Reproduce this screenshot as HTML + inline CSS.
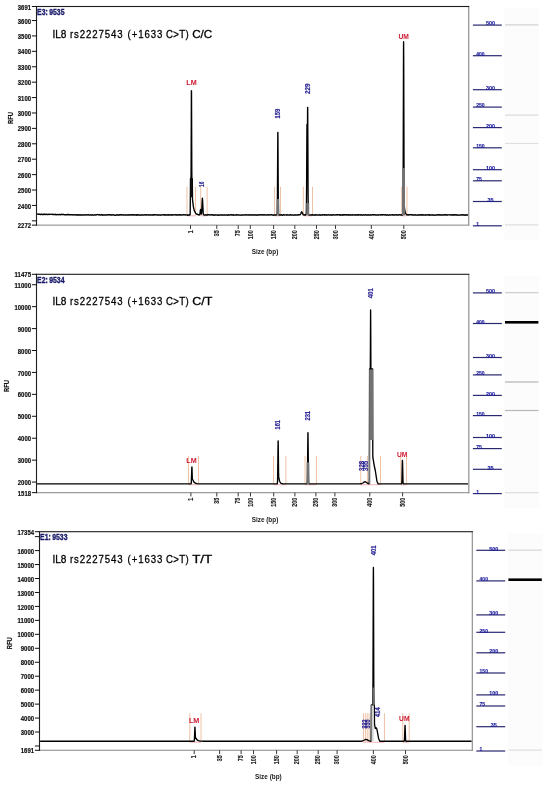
<!DOCTYPE html><html><head><meta charset="utf-8"><title>IL8 rs2227543 electropherograms</title>
<style>html,body{margin:0;padding:0;background:#fff;}svg{display:block;}</style></head><body>
<svg width="550" height="787" viewBox="0 0 550 787" font-family='"Liberation Sans", "DejaVu Sans", sans-serif'>
<rect x="0" y="0" width="550" height="787" fill="#ffffff"/>
<rect x="504.4" y="8" width="34.6" height="232.65" fill="#fcfcfc"/>
<rect x="505" y="24.4" width="33.4" height="1" fill="#c8c8c8"/>
<rect x="505" y="114.6" width="33.4" height="1" fill="#d4d4d4"/>
<rect x="505" y="142.9" width="33.4" height="1" fill="#dcdcdc"/>
<rect x="505" y="224.4" width="33.4" height="1" fill="#d8d8d8"/>
<rect x="472.9" y="24.5" width="28.9" height="1.2" fill="#2a2870"/>
<text x="490.4" y="25.4" font-size="5.0" font-weight="bold" fill="#2020a0" stroke="#2020a0" stroke-width="0.12" text-anchor="middle" textLength="9" lengthAdjust="spacingAndGlyphs">500</text>
<rect x="472.9" y="55.1" width="28.9" height="1.2" fill="#2a2870"/>
<text x="476.2" y="56" font-size="5.0" font-weight="bold" fill="#2020a0" stroke="#2020a0" stroke-width="0.12">400</text>
<rect x="472.9" y="89.1" width="28.9" height="1.2" fill="#2a2870"/>
<text x="490.4" y="90" font-size="5.0" font-weight="bold" fill="#2020a0" stroke="#2020a0" stroke-width="0.12" text-anchor="middle" textLength="9" lengthAdjust="spacingAndGlyphs">300</text>
<rect x="472.9" y="106.5" width="28.9" height="1.2" fill="#2a2870"/>
<text x="476.2" y="107.4" font-size="5.0" font-weight="bold" fill="#2020a0" stroke="#2020a0" stroke-width="0.12">250</text>
<rect x="472.9" y="127" width="28.9" height="1.2" fill="#2a2870"/>
<text x="490.4" y="127.9" font-size="5.0" font-weight="bold" fill="#2020a0" stroke="#2020a0" stroke-width="0.12" text-anchor="middle" textLength="9" lengthAdjust="spacingAndGlyphs">200</text>
<rect x="472.9" y="147.2" width="28.9" height="1.2" fill="#2a2870"/>
<text x="476.2" y="148.1" font-size="5.0" font-weight="bold" fill="#2020a0" stroke="#2020a0" stroke-width="0.12">150</text>
<rect x="472.9" y="169.1" width="28.9" height="1.2" fill="#2a2870"/>
<text x="490.4" y="170" font-size="5.0" font-weight="bold" fill="#2020a0" stroke="#2020a0" stroke-width="0.12" text-anchor="middle" textLength="9" lengthAdjust="spacingAndGlyphs">100</text>
<rect x="472.9" y="180.2" width="28.9" height="1.2" fill="#2a2870"/>
<text x="476.2" y="181.1" font-size="5.0" font-weight="bold" fill="#2020a0" stroke="#2020a0" stroke-width="0.12">75</text>
<rect x="472.9" y="200.9" width="28.9" height="1.2" fill="#2a2870"/>
<text x="490.4" y="201.8" font-size="5.0" font-weight="bold" fill="#2020a0" stroke="#2020a0" stroke-width="0.12" text-anchor="middle" textLength="6" lengthAdjust="spacingAndGlyphs">35</text>
<rect x="472.9" y="225.2" width="28.9" height="1.2" fill="#2a2870"/>
<text x="476.2" y="226.1" font-size="5.0" font-weight="bold" fill="#2020a0" stroke="#2020a0" stroke-width="0.12">1</text>
<rect x="186.55" y="186.7" width="0.9" height="28.75" fill="#ecbc9c"/>
<rect x="195.15" y="186.7" width="0.9" height="28.75" fill="#ecbc9c"/>
<rect x="200.25" y="186.7" width="0.9" height="28.75" fill="#ecbc9c"/>
<rect x="206.65" y="186.7" width="0.9" height="28.75" fill="#ecbc9c"/>
<rect x="274.15" y="186.7" width="0.9" height="28.75" fill="#ecbc9c"/>
<rect x="280.05" y="186.7" width="0.9" height="28.75" fill="#ecbc9c"/>
<rect x="302.85" y="186.7" width="0.9" height="28.75" fill="#ecbc9c"/>
<rect x="312.05" y="186.7" width="0.9" height="28.75" fill="#ecbc9c"/>
<rect x="401.25" y="186.7" width="0.9" height="28.75" fill="#ecbc9c"/>
<rect x="406.55" y="186.7" width="0.9" height="28.75" fill="#ecbc9c"/>
<rect x="187" y="215.45" width="8.6" height="0.8" fill="#e87878" opacity="0.7"/>
<rect x="200.7" y="215.45" width="6.4" height="0.8" fill="#e87878" opacity="0.7"/>
<rect x="274.6" y="215.45" width="5.9" height="0.8" fill="#e87878" opacity="0.7"/>
<rect x="303.3" y="215.45" width="9.2" height="0.8" fill="#e87878" opacity="0.7"/>
<rect x="401.7" y="215.45" width="5.3" height="0.8" fill="#e87878" opacity="0.7"/>
<path d="M37.10,214.10 L37.50,214.19 L37.70,213.98 L37.80,214.11 L38.00,214.02 L38.10,214.18 L38.20,214.18 L38.30,214.27 L38.50,214.27 L38.60,214.17 L38.80,214.30 L39.10,214.35 L39.20,214.22 L39.40,214.29 L39.60,214.11 L39.70,214.22 L40.20,214.46 L40.30,214.39 L40.40,214.44 L40.50,214.38 L40.70,214.51 L41.00,214.18 L41.10,214.31 L41.70,214.19 L41.90,214.26 L42.40,214.59 L42.50,214.57 L42.60,214.43 L42.90,214.61 L43.10,214.56 L43.20,214.43 L43.40,214.47 L43.60,214.25 L43.80,214.46 L43.90,214.33 L44.00,214.40 L44.30,214.22 L44.50,214.40 L44.60,214.27 L44.70,214.31 L44.80,214.19 L44.90,214.27 L45.00,214.24 L45.20,214.47 L45.30,214.44 L45.40,214.54 L45.60,214.32 L45.70,214.35 L45.90,214.18 L46.10,214.24 L46.30,214.10 L46.40,214.24 L46.50,214.21 L46.70,214.45 L47.00,214.38 L47.40,214.45 L47.50,214.54 L47.70,214.46 L47.80,214.50 L48.00,214.35 L48.10,214.48 L48.30,214.46 L48.40,214.32 L48.60,214.35 L48.70,214.24 L48.90,214.35 L49.00,214.25 L49.30,214.38 L49.40,214.35 L49.60,214.47 L49.80,214.24 L50.00,214.45 L50.20,214.38 L50.70,214.30 L50.80,214.35 L51.00,214.31 L51.10,214.40 L51.20,214.29 L51.40,214.41 L51.60,214.32 L51.70,214.42 L51.90,214.30 L52.10,214.39 L52.40,214.28 L52.50,214.40 L52.60,214.40 L52.70,214.50 L52.90,214.38 L53.10,214.54 L53.40,214.35 L53.50,214.38 L53.60,214.32 L53.80,214.53 L54.00,214.39 L54.30,214.59 L54.60,214.39 L54.70,214.49 L55.20,214.40 L55.30,214.53 L55.50,214.33 L55.80,214.69 L55.90,214.64 L56.10,214.79 L56.20,214.67 L56.50,214.75 L57.00,214.39 L57.10,214.44 L57.20,214.41 L57.30,214.52 L57.40,214.41 L57.90,214.82 L58.00,214.79 L58.10,214.62 L58.20,214.67 L58.40,214.51 L58.70,214.55 L58.80,214.66 L59.10,214.55 L59.20,214.64 L59.40,214.69 L59.60,214.55 L59.80,214.65 L59.90,214.55 L60.30,214.83 L60.40,214.66 L60.60,214.75 L60.90,214.51 L61.20,214.54 L61.30,214.63 L61.80,214.27 L62.00,214.59 L62.10,214.49 L62.50,214.47 L62.70,214.59 L63.10,214.43 L63.30,214.57 L63.60,214.43 L63.90,214.62 L64.00,214.60 L64.20,214.71 L64.50,214.66 L64.60,214.71 L64.90,214.71 L65.00,214.64 L65.20,214.72 L65.30,214.60 L65.50,214.60 L65.70,214.82 L65.80,214.77 L66.00,214.89 L66.30,214.66 L66.70,214.91 L67.00,214.91 L67.10,214.77 L67.20,214.78 L67.40,214.57 L67.50,214.67 L67.80,214.45 L67.90,214.60 L68.10,214.47 L68.20,214.61 L68.30,214.54 L68.70,214.92 L68.90,214.95 L69.00,214.79 L69.30,214.88 L69.40,214.76 L69.60,214.92 L69.80,214.73 L70.00,214.84 L70.30,214.64 L70.50,214.78 L71.00,214.69 L71.10,214.61 L71.20,214.65 L71.30,214.80 L71.40,214.77 L71.50,214.84 L71.60,214.75 L71.90,214.90 L72.20,214.90 L72.30,214.98 L72.50,214.75 L72.70,214.93 L72.90,214.88 L73.00,214.93 L73.30,214.71 L73.60,214.68 L73.80,214.89 L73.90,214.83 L74.00,214.89 L74.10,214.86 L74.30,214.95 L74.60,214.69 L74.80,214.72 L75.10,214.67 L75.20,214.78 L75.30,214.71 L75.40,214.86 L75.70,214.88 L75.90,215.03 L76.20,215.02 L76.30,215.08 L76.40,215.02 L76.60,215.14 L76.90,214.90 L77.30,215.14 L77.70,214.80 L78.00,215.06 L78.10,214.97 L78.20,215.05 L78.40,214.95 L78.50,215.00 L78.70,214.79 L78.80,214.91 L79.00,214.84 L79.20,214.94 L79.30,214.81 L79.60,214.84 L79.70,214.79 L79.90,214.98 L80.10,214.96 L80.30,214.82 L80.40,214.89 L80.50,214.81 L80.70,215.04 L80.80,214.92 L80.90,215.04 L81.00,214.99 L81.20,215.09 L81.30,215.01 L81.60,215.12 L81.70,215.03 L81.90,215.16 L82.10,215.13 L82.20,215.00 L82.40,214.94 L82.70,215.03 L82.80,214.94 L83.00,215.00 L83.10,214.91 L83.30,215.04 L83.40,214.93 L83.50,215.04 L83.70,214.90 L84.10,215.02 L84.50,214.77 L84.70,214.94 L84.90,215.01 L85.20,214.88 L85.30,214.99 L85.40,214.87 L85.60,214.84 L85.70,214.93 L86.10,214.89 L86.20,214.97 L86.30,214.93 L86.40,215.02 L86.80,214.71 L87.00,214.91 L87.20,214.78 L87.60,215.04 L87.70,215.04 L88.00,214.84 L88.20,214.90 L88.40,214.80 L88.50,214.90 L88.60,214.79 L88.90,215.11 L89.30,215.06 L89.40,215.16 L89.50,215.16 L89.60,215.07 L89.70,215.14 L90.00,215.12 L90.10,214.96 L90.30,215.05 L90.60,215.00 L90.70,214.91 L90.80,214.93 L90.90,214.81 L91.30,214.92 L91.50,215.12 L91.60,215.00 L91.80,215.07 L91.90,214.93 L92.20,214.76 L92.40,214.94 L92.50,214.90 L92.70,215.04 L92.80,214.93 L93.30,215.17 L93.40,215.08 L93.70,215.24 L93.80,215.17 L94.00,215.14 L94.50,214.70 L94.80,214.87 L95.00,214.92 L95.20,214.88 L95.30,214.96 L95.50,214.86 L95.70,215.03 L96.10,214.97 L96.40,214.75 L96.50,214.86 L96.60,214.79 L97.00,214.69 L97.50,214.58 L97.60,214.65 L97.80,214.55 L98.10,214.77 L98.20,214.69 L98.40,214.74 L98.50,214.66 L98.60,214.84 L98.80,214.72 L98.90,214.76 L99.00,214.71 L99.20,214.79 L99.40,214.66 L99.50,214.77 L99.60,214.75 L99.70,214.86 L99.80,214.87 L99.90,215.00 L100.20,214.83 L100.40,214.97 L100.60,214.83 L100.80,215.03 L100.90,215.03 L101.50,214.57 L101.70,214.84 L101.80,214.79 L101.90,214.94 L102.30,215.18 L102.50,214.96 L102.70,215.09 L102.90,214.90 L103.00,215.00 L103.30,214.85 L103.50,215.03 L103.60,214.93 L103.90,215.11 L104.00,215.09 L104.10,215.17 L104.40,214.96 L104.50,215.02 L104.80,214.86 L105.10,215.01 L105.40,214.87 L105.50,214.94 L105.60,214.82 L105.90,214.98 L106.10,214.82 L106.50,215.13 L106.60,215.08 L106.80,215.17 L107.10,214.90 L107.20,214.89 L107.30,215.01 L107.40,214.90 L107.50,214.93 L107.70,214.75 L107.80,214.83 L108.10,214.67 L108.30,214.82 L108.50,214.70 L108.60,214.87 L108.70,214.82 L108.90,214.86 L109.20,215.04 L109.60,214.77 L109.70,214.89 L109.90,214.71 L110.00,214.88 L110.10,214.82 L110.20,214.94 L110.30,214.84 L110.50,214.80 L111.00,215.12 L111.30,215.02 L111.40,214.91 L111.70,215.08 L111.80,214.98 L112.10,215.02 L112.30,214.87 L112.40,214.88 L112.50,214.79 L112.70,214.92 L113.00,214.98 L113.20,214.87 L113.30,215.01 L113.80,214.74 L114.20,215.15 L114.40,215.21 L114.60,215.10 L114.90,215.29 L115.00,215.22 L115.10,215.23 L115.20,215.15 L115.40,215.29 L115.50,215.17 L115.60,215.23 L115.80,214.97 L115.90,215.02 L116.10,214.96 L116.20,214.99 L116.30,214.87 L116.40,214.95 L116.70,214.86 L116.90,215.00 L117.20,214.81 L117.50,214.69 L118.00,215.19 L118.30,214.94 L118.70,214.92 L118.80,215.01 L119.00,214.94 L119.20,215.10 L119.40,214.94 L119.50,215.02 L119.70,214.80 L119.90,214.87 L120.20,214.69 L120.30,214.81 L120.40,214.83 L120.70,215.14 L121.00,214.79 L121.20,214.79 L121.30,214.71 L121.40,214.77 L121.70,214.69 L121.80,214.82 L122.00,214.79 L122.10,214.71 L122.60,215.07 L122.80,214.88 L123.00,215.03 L123.10,215.02 L123.20,215.09 L123.60,214.79 L123.90,215.07 L124.10,215.06 L124.30,215.19 L124.60,215.08 L124.80,214.88 L125.00,215.07 L125.40,214.95 L125.50,215.02 L125.60,215.00 L125.70,215.10 L125.90,214.93 L126.10,214.92 L126.40,215.16 L126.50,215.15 L126.60,214.99 L126.90,214.99 L127.00,214.93 L127.20,215.08 L127.30,214.95 L127.40,215.00 L127.60,214.96 L127.80,215.15 L127.90,215.15 L128.00,215.03 L128.10,215.12 L128.30,214.97 L128.40,215.04 L128.60,214.92 L128.80,215.13 L129.30,214.81 L129.40,214.95 L129.80,214.69 L130.30,215.06 L130.50,214.87 L130.60,215.00 L130.80,214.84 L131.10,214.85 L131.30,214.73 L131.40,214.89 L131.50,214.81 L131.60,214.94 L131.70,214.86 L131.80,215.00 L132.00,215.06 L132.20,214.83 L132.30,214.92 L132.50,214.79 L132.70,215.01 L132.80,214.88 L132.90,215.01 L133.10,214.97 L133.30,214.85 L133.40,215.00 L133.80,214.72 L133.90,214.73 L134.00,214.88 L134.20,214.74 L134.50,215.13 L134.70,214.98 L134.80,215.09 L135.00,215.09 L135.20,214.88 L135.30,214.85 L135.50,215.01 L136.00,214.98 L136.10,215.05 L136.20,214.96 L136.50,215.14 L136.60,215.02 L136.80,215.18 L137.20,214.79 L137.30,214.94 L137.40,214.92 L137.50,215.02 L137.70,214.80 L138.00,215.11 L138.30,215.13 L138.40,215.00 L138.60,214.97 L138.70,214.88 L139.30,214.83 L139.80,215.21 L139.90,215.10 L140.00,215.19 L140.20,214.96 L140.40,215.02 L140.50,214.96 L140.60,215.00 L140.70,214.93 L140.80,215.05 L141.10,215.00 L141.30,215.18 L141.60,215.09 L141.70,214.95 L141.80,214.93 L142.00,215.08 L142.10,214.94 L142.20,215.03 L142.30,214.99 L142.40,215.10 L142.60,214.95 L142.80,215.05 L142.90,215.02 L143.10,215.12 L143.60,214.91 L143.80,215.05 L143.90,215.05 L144.10,214.87 L144.30,214.90 L144.50,214.74 L144.70,214.73 L144.80,214.65 L145.00,214.87 L145.50,215.18 L145.70,215.13 L145.80,215.00 L145.90,215.09 L146.10,215.01 L146.20,215.09 L146.40,214.92 L146.60,215.02 L146.80,214.79 L147.00,214.70 L147.10,214.83 L147.40,214.77 L147.80,214.93 L148.00,214.82 L148.20,215.01 L148.30,214.90 L148.50,214.97 L148.60,215.09 L148.80,214.83 L149.00,214.85 L149.20,215.05 L149.40,214.96 L149.60,215.07 L149.90,214.84 L150.00,214.90 L150.10,214.79 L150.20,214.93 L150.40,214.96 L150.60,214.81 L150.90,214.95 L151.00,214.90 L151.10,215.03 L151.30,215.04 L151.50,214.90 L151.60,215.01 L151.70,214.90 L151.90,214.96 L152.00,214.92 L152.40,215.17 L152.60,214.92 L152.90,214.81 L153.00,214.93 L153.10,214.86 L153.30,215.07 L153.40,214.95 L153.50,215.05 L153.90,214.75 L154.10,214.80 L154.30,215.00 L154.40,214.88 L154.90,214.74 L155.00,214.83 L155.30,214.72 L155.50,214.81 L155.60,214.77 L155.70,214.86 L155.80,214.80 L156.00,214.92 L156.10,214.84 L156.20,214.93 L156.70,214.96 L156.80,214.85 L157.00,215.03 L157.20,215.02 L157.30,214.95 L157.50,215.08 L157.60,214.98 L157.80,215.15 L157.90,215.08 L158.00,215.17 L158.20,215.01 L158.30,215.05 L158.40,214.99 L158.60,215.04 L158.70,214.93 L158.90,215.03 L159.10,215.01 L159.20,215.09 L159.50,215.03 L159.60,215.09 L159.80,214.88 L160.00,214.97 L160.10,214.92 L160.30,215.10 L160.40,215.08 L160.70,215.23 L160.90,214.96 L161.10,215.05 L161.50,214.92 L161.70,214.99 L161.90,214.85 L162.10,214.85 L162.20,214.93 L162.60,214.80 L162.70,214.85 L162.90,214.69 L163.20,214.76 L163.40,214.66 L163.70,214.98 L163.90,214.95 L164.20,214.79 L164.30,214.93 L164.40,214.84 L164.50,214.97 L164.80,214.89 L164.90,215.01 L165.00,214.92 L165.20,214.95 L165.40,214.82 L165.80,215.15 L165.90,215.01 L166.10,215.09 L166.30,214.98 L166.40,215.09 L166.50,215.02 L166.60,215.07 L166.70,214.96 L166.80,215.00 L167.10,214.91 L167.30,215.06 L167.60,215.03 L167.70,215.09 L167.80,215.00 L168.10,214.97 L168.30,214.79 L168.40,214.86 L168.50,214.80 L169.00,215.13 L169.20,214.92 L169.50,215.10 L169.70,214.90 L169.90,215.07 L170.10,215.09 L170.20,214.97 L170.50,215.03 L170.70,214.84 L170.90,215.00 L171.20,214.72 L171.30,214.83 L171.50,214.84 L171.60,214.99 L171.70,215.01 L171.80,214.94 L171.90,214.99 L172.10,214.82 L172.20,214.90 L172.40,214.73 L172.60,214.77 L172.70,214.93 L172.80,214.83 L172.90,214.93 L173.00,214.91 L173.10,214.99 L173.30,215.01 L173.60,214.88 L173.70,214.97 L174.20,214.77 L174.50,214.90 L174.80,214.68 L175.00,214.67 L175.10,214.74 L175.20,214.72 L175.60,215.00 L175.90,214.92 L176.00,214.81 L176.10,214.91 L176.20,214.92 L176.30,214.83 L176.40,214.96 L176.70,214.98 L176.80,214.88 L176.90,215.02 L177.10,214.89 L177.20,215.03 L177.30,214.92 L177.50,214.93 L177.60,214.87 L177.70,214.99 L177.90,214.84 L178.00,214.85 L178.10,214.75 L178.40,215.06 L178.50,214.92 L178.60,214.97 L179.10,214.77 L179.20,214.84 L179.30,214.76 L179.40,214.91 L179.50,214.81 L179.60,214.95 L179.80,214.78 L180.10,214.98 L180.30,215.00 L180.40,214.89 L180.60,214.95 L180.70,215.06 L180.90,214.82 L181.10,215.01 L181.70,214.99 L181.90,214.83 L182.00,214.92 L182.40,214.82 L182.70,215.07 L183.20,214.77 L183.40,214.88 L183.80,214.68 L184.00,214.71 L184.10,214.86 L184.40,214.86 L184.50,214.77 L184.70,214.94 L184.80,214.91 L184.90,214.97 L185.30,214.76 L185.60,214.95 L185.70,214.85 L185.80,214.94 L186.20,214.91 L186.40,214.84 L186.70,215.06 L186.80,214.96 L187.20,215.22 L187.30,215.07 L187.50,215.18 L187.60,215.04 L187.80,215.14 L187.90,215.05 L188.10,215.19 L188.40,214.92 L188.50,215.01 L188.80,214.92 L188.90,215.03 L189.10,214.83 L189.20,214.97 L189.40,214.90 L189.50,215.03 L189.70,214.85 L189.80,214.97 L190.10,214.83 L190.20,213.30 L190.50,178.46 L190.60,178.39 L191.00,178.45 L191.10,170.99 L191.40,90.79 L191.50,90.83 L191.80,170.99 L191.90,178.34 L192.20,178.68 L192.30,178.66 L192.50,199.40 L193.40,206.82 L194.30,210.57 L195.80,213.50 L195.90,213.59 L196.10,213.61 L196.30,213.89 L196.50,214.02 L196.60,214.17 L196.90,214.23 L197.00,214.16 L197.60,214.54 L197.70,214.49 L197.80,214.65 L197.90,214.57 L198.00,214.69 L198.10,214.62 L198.20,214.73 L198.40,214.59 L198.90,215.05 L199.00,214.89 L199.20,214.76 L199.30,214.84 L199.50,214.89 L199.70,214.74 L199.90,214.04 L200.40,210.06 L200.60,209.46 L200.80,210.03 L201.30,213.77 L201.40,214.14 L201.60,212.75 L202.30,198.89 L202.40,198.29 L202.50,198.83 L203.20,212.71 L203.40,214.38 L203.60,214.76 L203.70,214.78 L203.80,214.94 L204.10,214.93 L204.20,214.99 L204.40,214.89 L204.60,215.04 L204.80,214.86 L205.00,215.03 L205.20,215.00 L205.30,215.10 L205.70,214.84 L205.90,214.87 L206.10,215.02 L206.80,215.00 L206.90,215.07 L207.00,214.97 L207.10,215.04 L207.20,214.97 L207.30,215.05 L207.40,214.93 L207.60,214.92 L207.70,214.98 L208.00,214.78 L208.20,214.87 L208.50,214.69 L208.60,214.86 L208.80,214.90 L208.90,214.86 L209.20,215.03 L209.30,214.89 L209.50,214.90 L209.60,214.79 L209.70,214.90 L209.90,214.83 L210.20,214.92 L210.30,215.02 L210.50,214.96 L210.60,214.85 L211.00,214.86 L211.40,214.61 L211.60,214.82 L211.70,214.78 L211.90,214.92 L212.00,214.81 L212.10,214.90 L212.20,214.85 L212.30,214.99 L212.60,214.81 L212.80,215.01 L212.90,215.02 L213.10,214.91 L213.20,214.97 L213.30,214.85 L213.60,215.14 L213.80,215.14 L213.90,215.22 L214.30,214.85 L214.40,214.94 L214.50,214.84 L214.60,214.92 L214.70,214.90 L215.10,215.14 L215.30,214.92 L215.50,214.89 L215.90,215.16 L216.00,215.17 L216.20,215.06 L216.40,215.15 L216.60,215.02 L216.70,215.03 L216.80,214.95 L216.90,215.04 L217.00,214.90 L217.20,214.94 L217.30,214.87 L217.50,214.91 L217.70,215.11 L218.00,215.22 L218.10,215.08 L218.50,215.26 L218.70,215.05 L218.80,215.07 L218.90,214.97 L219.20,215.10 L219.40,214.97 L219.60,215.08 L219.90,214.99 L220.10,215.01 L220.20,214.95 L220.50,215.17 L220.70,214.97 L221.00,215.10 L221.10,215.00 L221.30,215.03 L221.70,215.01 L221.90,215.16 L222.00,215.02 L222.10,215.02 L222.20,215.12 L222.40,215.11 L222.50,215.17 L222.60,215.01 L222.90,215.07 L223.00,215.00 L223.10,215.02 L223.20,214.91 L223.40,214.87 L223.60,215.06 L223.80,215.08 L224.10,214.92 L224.40,215.11 L224.50,214.97 L224.60,215.05 L224.70,214.91 L224.90,214.93 L225.00,214.83 L225.10,214.83 L225.30,214.98 L225.40,214.93 L225.50,215.01 L225.60,214.96 L225.70,215.06 L225.90,214.90 L226.00,215.02 L226.20,214.85 L226.30,214.94 L226.40,214.84 L226.70,215.00 L226.80,214.95 L227.00,215.08 L227.20,215.08 L227.40,214.98 L227.60,215.18 L227.90,214.86 L228.00,214.95 L228.20,214.81 L228.30,214.90 L228.40,214.83 L228.50,214.97 L228.60,214.96 L228.80,215.11 L228.90,215.01 L229.00,215.07 L229.30,214.83 L229.50,214.93 L229.60,214.88 L229.70,214.98 L230.10,214.79 L230.20,214.92 L230.30,214.93 L230.50,214.80 L230.60,214.87 L230.70,214.83 L230.80,214.95 L230.90,214.84 L231.20,215.06 L231.50,214.81 L231.60,214.87 L231.80,214.71 L232.20,215.10 L232.30,215.09 L232.50,215.16 L232.70,215.08 L233.00,214.79 L233.10,214.82 L233.20,214.75 L233.30,214.91 L233.60,215.09 L233.70,214.99 L233.90,215.17 L234.10,214.95 L234.40,215.15 L234.60,215.09 L234.80,214.89 L235.00,214.96 L235.10,214.85 L235.20,214.98 L235.30,214.86 L235.40,214.99 L235.50,214.92 L235.80,215.16 L236.00,215.13 L236.10,215.04 L236.20,215.11 L236.30,214.98 L236.40,215.07 L236.50,215.07 L236.60,214.93 L236.70,215.05 L237.10,214.73 L237.20,214.72 L237.40,214.97 L237.80,215.15 L238.10,214.90 L238.20,214.92 L238.30,214.85 L238.40,214.93 L238.80,214.97 L239.00,214.84 L239.10,214.91 L239.20,214.84 L239.40,215.03 L239.50,214.99 L239.60,215.10 L239.80,215.18 L240.10,215.17 L240.20,215.05 L240.60,215.04 L240.90,215.20 L241.00,215.06 L241.20,215.09 L241.30,215.17 L241.50,214.91 L241.60,215.04 L241.70,214.99 L241.90,215.04 L242.20,214.98 L242.30,215.10 L242.50,215.12 L242.60,215.04 L243.00,215.17 L243.10,215.02 L243.20,215.13 L243.50,215.00 L243.70,214.83 L244.00,215.08 L244.20,214.87 L244.40,214.87 L244.50,214.94 L244.60,214.89 L244.80,214.98 L244.90,214.92 L245.00,215.00 L245.10,214.88 L245.20,214.92 L245.40,214.75 L245.70,214.88 L245.80,214.86 L246.00,215.05 L246.20,214.82 L246.30,214.96 L246.60,214.78 L246.70,214.87 L246.90,214.80 L247.00,214.87 L247.20,214.91 L247.40,215.09 L247.60,215.10 L247.70,215.02 L248.20,215.08 L248.30,214.98 L248.50,215.13 L248.70,214.91 L248.80,215.04 L248.90,214.92 L249.10,215.01 L249.20,214.89 L249.30,214.94 L249.40,214.82 L249.50,214.93 L249.60,214.88 L249.80,215.09 L250.10,214.86 L250.20,214.94 L250.50,214.70 L250.60,214.84 L250.90,214.80 L251.10,214.85 L251.20,214.98 L251.40,214.93 L251.50,215.02 L251.70,214.86 L251.80,214.97 L251.90,214.92 L252.10,215.09 L252.40,214.87 L252.50,214.98 L252.90,214.80 L253.00,214.92 L253.10,214.83 L253.60,214.91 L253.70,214.84 L253.90,215.04 L254.10,214.96 L254.20,215.06 L254.40,214.88 L254.70,215.02 L254.80,214.91 L254.90,215.04 L255.10,214.90 L255.40,215.12 L255.50,214.98 L255.60,215.06 L255.80,214.88 L256.00,215.07 L256.10,214.93 L256.20,214.93 L256.30,215.03 L256.50,214.92 L256.60,214.99 L256.70,214.97 L257.00,215.20 L257.10,215.20 L257.20,215.08 L257.60,215.05 L257.80,214.90 L257.90,215.01 L258.10,214.87 L258.20,215.00 L258.40,215.03 L258.70,214.85 L258.80,214.96 L258.90,214.90 L259.00,215.01 L259.10,214.95 L259.20,215.05 L259.60,214.78 L259.90,214.85 L260.20,214.77 L260.30,214.91 L260.40,214.81 L260.50,214.82 L260.70,214.95 L260.80,214.89 L260.90,215.03 L261.20,214.73 L261.40,214.89 L261.60,214.81 L261.70,214.92 L261.90,214.72 L262.00,214.81 L262.10,214.73 L262.20,214.78 L262.30,214.73 L262.50,214.92 L262.70,214.86 L262.90,214.97 L263.10,214.81 L263.40,214.80 L263.50,214.87 L263.60,214.83 L263.70,214.95 L264.20,214.69 L264.30,214.83 L264.50,214.85 L264.70,215.09 L264.80,215.13 L265.00,214.97 L265.50,214.78 L265.70,214.92 L266.10,214.99 L266.20,214.87 L266.30,214.97 L266.50,214.91 L266.70,215.08 L266.90,214.89 L267.20,214.86 L267.30,214.78 L267.40,214.83 L267.50,214.80 L267.70,214.91 L267.80,214.87 L267.90,214.96 L268.30,214.73 L268.40,214.75 L268.60,215.02 L268.70,215.04 L269.00,214.82 L269.20,214.87 L269.30,214.77 L269.70,214.98 L270.10,214.91 L270.20,214.95 L270.30,214.84 L270.50,214.88 L270.70,214.78 L270.80,214.90 L271.10,214.78 L271.70,214.79 L271.80,214.85 L271.90,214.77 L272.00,214.83 L272.10,214.80 L272.30,215.06 L272.40,214.95 L272.50,215.00 L272.70,214.85 L273.00,215.11 L273.20,215.20 L273.50,215.16 L273.70,215.25 L273.90,215.03 L274.20,214.98 L274.50,215.14 L274.70,215.13 L274.80,215.02 L274.90,215.08 L275.00,214.96 L275.20,215.07 L275.40,214.90 L275.70,214.98 L275.80,214.88 L275.90,214.99 L276.10,214.94 L276.30,215.02 L276.60,214.93 L276.80,214.77 L276.90,214.86 L277.00,214.65 L277.10,214.10 L277.20,212.71 L277.40,200.35 L277.80,132.56 L277.90,132.42 L278.30,200.38 L278.50,212.79 L278.60,214.33 L278.80,214.98 L278.90,215.06 L279.00,214.97 L279.20,215.12 L279.40,214.93 L279.60,215.14 L279.70,215.01 L279.90,215.15 L280.00,215.05 L280.10,215.10 L280.20,215.02 L280.30,215.08 L280.50,215.03 L280.60,214.92 L280.80,215.01 L281.20,214.73 L281.60,215.11 L281.80,214.95 L282.20,215.24 L282.50,215.29 L282.90,214.85 L283.00,214.81 L283.10,214.86 L283.40,214.72 L283.70,214.83 L283.80,214.97 L284.10,214.74 L284.50,215.05 L284.60,214.90 L284.70,215.01 L284.80,214.96 L285.10,215.02 L285.40,214.85 L285.60,214.92 L285.80,214.82 L286.10,214.89 L286.40,215.08 L286.50,215.00 L286.70,215.17 L286.80,215.13 L287.00,214.87 L287.30,215.08 L287.50,215.04 L287.60,214.93 L287.80,215.08 L287.90,214.98 L288.20,215.09 L288.40,214.95 L288.70,215.16 L288.80,215.10 L289.00,215.17 L289.10,215.10 L289.20,215.13 L289.50,214.84 L289.70,214.99 L289.90,214.77 L290.10,214.73 L290.20,214.83 L290.30,214.78 L290.50,214.87 L290.60,214.85 L290.70,214.96 L291.10,214.96 L291.20,214.88 L291.40,215.06 L291.70,215.04 L291.90,214.86 L292.10,215.00 L292.20,214.89 L292.30,215.02 L292.40,214.98 L292.60,215.13 L292.80,214.95 L293.10,215.18 L293.30,215.13 L293.60,215.23 L293.70,215.12 L293.90,215.24 L294.00,215.20 L294.20,214.93 L294.40,214.95 L294.70,215.10 L294.80,214.98 L295.20,215.18 L295.40,215.05 L295.50,215.15 L295.80,214.82 L295.90,214.91 L296.00,214.87 L296.30,215.09 L296.40,214.94 L296.90,215.19 L297.20,215.18 L297.40,214.96 L297.50,215.07 L297.70,214.99 L298.00,215.14 L298.20,215.07 L298.50,214.80 L298.70,214.87 L298.80,214.77 L298.90,214.84 L299.00,214.76 L299.10,214.77 L299.20,214.69 L299.30,214.73 L299.40,214.68 L299.50,214.83 L299.60,214.80 L299.70,214.89 L299.90,214.77 L300.00,214.82 L300.30,214.54 L300.40,214.53 L300.90,213.49 L301.20,212.45 L301.40,212.01 L301.50,211.97 L301.60,211.81 L301.90,211.92 L302.40,213.06 L303.10,214.62 L303.40,214.78 L303.80,214.83 L304.10,215.15 L304.30,215.00 L304.40,215.10 L304.70,214.77 L304.80,214.92 L305.00,214.92 L305.10,214.82 L305.30,215.07 L305.50,215.17 L306.00,214.77 L306.10,214.59 L306.20,213.93 L306.40,208.47 L306.60,187.16 L306.90,130.49 L307.00,124.08 L307.10,130.50 L307.30,168.23 L307.60,107.37 L307.70,107.36 L308.10,195.90 L308.30,212.06 L308.40,213.95 L308.50,214.60 L308.60,214.81 L308.90,215.02 L309.00,214.95 L309.70,215.12 L309.80,215.03 L310.00,215.08 L310.10,215.05 L310.20,215.13 L310.60,215.05 L310.70,214.95 L310.80,214.99 L310.90,214.89 L311.20,214.96 L311.40,215.15 L311.50,215.04 L311.60,215.13 L311.80,215.06 L311.90,214.92 L312.00,215.02 L312.60,214.76 L312.80,214.80 L313.10,215.11 L313.20,215.05 L313.50,215.13 L313.70,214.97 L313.90,215.05 L314.00,214.99 L314.10,215.03 L314.20,214.90 L314.50,215.17 L314.60,215.03 L314.80,215.11 L314.90,214.99 L315.00,215.01 L315.30,214.76 L315.40,214.74 L315.80,215.10 L315.90,214.98 L316.10,215.14 L316.70,214.86 L316.90,214.96 L317.10,214.83 L317.70,215.13 L317.80,215.08 L318.00,215.12 L318.30,214.92 L318.50,215.03 L318.70,214.97 L318.80,214.86 L319.20,215.06 L319.30,214.93 L319.40,215.05 L319.50,214.95 L319.70,215.16 L320.00,214.88 L320.40,215.19 L320.50,215.10 L320.60,215.14 L320.90,214.97 L321.00,215.02 L321.30,214.98 L321.40,215.05 L321.80,214.98 L321.90,215.03 L322.20,214.75 L322.30,214.77 L322.80,215.13 L323.00,214.95 L323.20,214.89 L323.30,214.93 L323.40,214.83 L323.60,214.90 L323.80,214.78 L323.90,214.88 L324.00,214.82 L324.30,215.07 L324.60,214.95 L324.70,214.84 L324.80,214.98 L325.00,214.81 L325.10,214.94 L325.30,214.97 L325.50,215.11 L325.70,214.95 L325.90,215.03 L326.10,214.88 L326.20,214.90 L326.30,214.80 L326.50,214.95 L326.60,214.86 L326.80,214.93 L326.90,214.83 L327.30,214.99 L327.40,214.91 L327.50,215.05 L327.70,215.06 L327.80,214.92 L328.00,214.77 L328.60,214.68 L328.70,214.73 L328.80,214.68 L329.20,215.08 L329.30,214.96 L329.40,214.99 L329.50,214.92 L329.60,215.04 L329.90,215.11 L330.10,214.88 L330.30,215.05 L330.60,214.77 L330.80,214.95 L330.90,214.92 L331.10,215.04 L331.20,214.90 L331.60,215.21 L331.80,215.13 L331.90,215.00 L332.10,215.08 L332.40,214.83 L332.50,214.83 L332.60,214.96 L332.70,214.95 L332.80,215.04 L333.20,214.80 L333.30,214.91 L333.50,214.85 L333.70,214.91 L334.00,215.11 L334.30,214.99 L334.50,215.18 L334.70,215.11 L334.80,214.97 L335.00,215.06 L335.20,214.92 L335.40,214.98 L335.60,214.86 L335.80,214.90 L336.00,214.71 L336.30,214.82 L336.60,214.68 L336.70,214.80 L336.80,214.76 L336.90,214.92 L337.20,214.72 L337.70,214.96 L337.80,214.85 L337.90,214.98 L338.20,214.79 L338.40,214.90 L338.70,214.73 L338.90,214.88 L339.10,214.76 L339.30,214.93 L339.40,214.85 L339.70,215.07 L339.80,215.00 L339.90,215.11 L340.10,215.07 L340.30,215.21 L340.70,214.80 L340.80,214.93 L341.30,214.91 L341.40,214.97 L341.50,214.95 L341.90,215.19 L342.10,215.02 L342.20,215.09 L342.50,214.94 L342.60,215.02 L342.80,214.93 L342.90,215.01 L343.10,214.78 L343.30,214.82 L343.40,214.75 L343.90,215.13 L344.10,214.94 L344.20,214.93 L344.30,214.82 L344.40,214.91 L344.50,214.87 L344.70,215.00 L345.20,214.73 L345.50,214.71 L345.70,214.91 L345.90,214.79 L346.00,214.89 L346.20,214.76 L346.40,214.98 L346.50,214.91 L346.70,215.03 L347.10,214.78 L347.30,214.99 L347.40,214.91 L347.50,214.95 L347.60,214.87 L347.70,214.95 L347.80,214.92 L348.00,214.98 L348.10,214.87 L348.30,214.95 L348.50,214.74 L348.60,214.73 L348.80,214.97 L348.90,214.95 L349.10,215.08 L349.30,214.97 L349.40,215.05 L349.60,215.01 L349.70,215.06 L349.80,214.95 L350.20,215.01 L350.50,214.93 L350.60,214.83 L350.80,215.05 L351.40,214.86 L351.50,214.99 L351.70,214.88 L351.80,214.93 L351.90,214.81 L352.10,214.85 L352.20,214.95 L352.40,214.80 L352.50,214.94 L352.60,214.82 L352.80,214.86 L352.90,215.00 L353.40,214.77 L353.50,214.91 L353.70,214.98 L353.80,214.92 L354.00,215.07 L354.10,214.98 L354.20,215.09 L354.30,215.00 L354.50,215.14 L354.60,215.09 L354.70,215.17 L354.90,215.06 L355.00,215.14 L355.10,215.13 L355.30,214.89 L355.50,214.88 L355.60,214.78 L355.70,214.89 L355.80,214.86 L355.90,214.98 L356.20,214.86 L356.40,215.06 L356.90,214.88 L357.10,214.69 L357.30,214.94 L357.40,214.87 L357.50,214.92 L357.60,214.81 L357.90,215.01 L358.10,214.96 L358.20,215.03 L358.50,214.78 L358.60,214.92 L358.80,214.78 L358.90,214.83 L359.00,214.76 L359.20,214.88 L359.40,214.83 L359.70,215.13 L359.80,214.97 L359.90,215.09 L360.00,215.08 L360.10,214.96 L360.20,215.08 L360.30,214.96 L360.40,215.08 L360.60,214.83 L361.00,215.01 L361.10,214.90 L361.20,214.97 L361.30,214.92 L361.40,215.04 L361.60,215.08 L361.70,214.96 L361.80,215.06 L362.10,214.90 L362.20,214.98 L362.50,214.96 L362.70,214.81 L363.00,214.95 L363.10,214.88 L363.40,215.06 L363.60,214.84 L363.80,215.03 L363.90,214.96 L364.20,215.04 L364.30,214.99 L364.70,214.90 L364.90,215.06 L365.20,214.82 L365.30,214.91 L365.50,214.78 L365.60,214.90 L365.70,214.89 L365.80,214.79 L366.40,215.19 L366.50,215.11 L366.60,215.16 L366.80,215.12 L366.90,215.01 L367.00,215.03 L367.10,214.91 L367.20,215.01 L367.30,214.92 L367.70,215.15 L367.90,214.96 L368.00,215.08 L368.10,215.00 L368.20,215.08 L368.60,215.00 L368.80,215.06 L368.90,214.96 L369.00,214.96 L369.10,214.86 L369.20,214.97 L369.40,214.86 L369.60,214.87 L369.80,215.05 L370.00,214.96 L370.30,215.03 L370.60,215.00 L370.70,215.09 L370.80,215.03 L370.90,215.09 L371.20,214.87 L371.30,214.99 L371.50,214.84 L371.80,214.97 L372.00,214.86 L372.10,214.93 L372.30,214.77 L372.40,214.89 L372.70,214.68 L372.80,214.82 L373.10,214.85 L373.20,214.97 L373.40,214.79 L373.60,214.87 L373.70,214.79 L373.90,214.85 L374.20,214.69 L374.30,214.84 L374.50,214.70 L374.60,214.78 L374.70,214.74 L374.90,214.79 L375.00,214.95 L375.20,214.93 L375.30,214.85 L375.70,215.05 L375.80,215.03 L375.90,215.12 L376.10,215.05 L376.30,215.18 L376.40,215.13 L376.60,215.19 L376.80,215.04 L376.90,215.08 L377.20,214.98 L377.40,214.82 L377.50,214.97 L377.60,214.90 L377.70,214.99 L377.90,214.83 L378.10,214.83 L378.30,215.08 L378.50,214.90 L378.70,215.08 L378.80,215.05 L379.00,214.81 L379.20,214.94 L379.70,214.84 L380.00,214.85 L380.10,214.80 L380.30,215.00 L380.40,214.91 L380.60,215.02 L380.80,214.85 L380.90,214.95 L381.20,214.72 L381.30,214.84 L381.40,214.83 L381.60,214.72 L381.80,214.80 L381.90,214.74 L382.10,214.94 L382.50,214.72 L382.60,214.79 L382.70,214.77 L382.90,214.95 L383.30,214.86 L383.40,214.76 L383.70,214.70 L383.90,214.91 L384.00,214.91 L384.10,214.81 L384.20,214.90 L384.30,214.88 L384.50,215.02 L384.60,214.94 L384.80,215.02 L384.90,214.97 L385.00,215.04 L385.30,214.78 L385.40,214.84 L385.70,214.68 L385.80,214.80 L385.90,214.78 L386.20,215.08 L386.30,214.98 L386.40,215.09 L386.70,215.21 L386.90,215.05 L387.00,215.13 L387.30,214.81 L387.50,214.82 L387.60,214.96 L387.70,214.84 L388.50,215.25 L389.00,214.93 L389.30,214.90 L389.40,214.81 L389.50,214.96 L389.90,214.91 L390.10,215.09 L390.30,215.17 L390.60,215.00 L390.70,215.10 L390.90,214.90 L391.00,214.98 L391.20,214.81 L391.50,214.84 L391.90,214.72 L392.20,214.70 L392.40,214.97 L392.60,214.95 L392.80,214.75 L393.00,214.93 L393.10,214.83 L393.30,214.94 L393.40,214.82 L393.50,214.87 L393.60,214.82 L394.00,215.13 L394.10,214.99 L394.30,215.02 L394.50,214.88 L394.80,214.87 L394.90,215.00 L395.00,214.92 L395.10,215.02 L395.20,214.92 L395.60,214.92 L395.80,214.79 L396.00,214.75 L396.40,215.02 L396.70,214.73 L396.80,214.87 L396.90,214.88 L397.00,215.01 L397.20,214.93 L397.40,215.05 L397.80,214.89 L398.00,215.09 L398.20,214.94 L398.30,215.03 L398.60,215.02 L398.70,214.90 L398.80,214.97 L398.90,214.87 L399.00,214.99 L399.40,214.73 L399.50,214.81 L399.90,214.57 L400.00,214.65 L400.10,214.64 L400.30,214.85 L400.40,214.87 L400.60,215.10 L400.70,215.02 L400.90,215.10 L401.00,214.99 L401.10,215.05 L401.20,214.92 L401.70,215.11 L402.10,214.87 L402.40,215.15 L402.50,215.07 L402.60,215.12 L402.70,215.05 L402.80,214.37 L402.90,212.57 L403.10,195.05 L403.50,56.06 L403.60,41.69 L403.70,56.12 L404.10,194.91 L404.20,204.90 L404.70,209.76 L405.20,212.25 L405.70,213.53 L405.90,213.81 L406.00,213.82 L406.50,214.57 L406.70,214.55 L407.10,214.94 L407.40,214.75 L407.80,214.95 L408.10,214.80 L408.30,215.04 L408.50,215.08 L408.90,214.67 L409.00,214.65 L409.10,214.82 L409.20,214.87 L409.70,214.57 L410.00,214.59 L410.10,214.69 L410.30,214.62 L410.40,214.75 L410.50,214.74 L410.60,214.81 L410.70,214.79 L410.80,214.87 L411.00,214.74 L411.10,214.87 L411.20,214.84 L411.30,214.89 L411.50,214.76 L411.70,214.80 L411.80,214.71 L412.10,214.78 L412.30,214.99 L412.50,214.91 L412.70,215.04 L413.00,214.98 L413.30,215.11 L413.50,214.90 L414.00,215.15 L414.10,215.07 L414.30,215.13 L414.70,214.81 L414.90,214.78 L415.10,214.98 L415.30,215.02 L415.40,214.89 L415.70,215.03 L415.80,214.97 L416.10,215.06 L416.20,215.02 L416.40,215.15 L416.80,215.08 L417.00,215.24 L417.20,215.18 L417.30,215.04 L417.40,215.12 L417.50,215.12 L417.70,214.84 L417.90,215.02 L418.30,214.92 L418.50,215.05 L418.80,214.76 L419.10,215.09 L419.60,214.81 L419.80,214.80 L420.00,214.99 L420.10,214.95 L420.20,215.03 L420.40,214.90 L420.50,214.98 L420.70,214.78 L420.80,214.94 L421.00,214.92 L421.20,215.08 L421.30,215.02 L421.40,215.08 L421.50,214.96 L421.60,215.06 L421.80,214.97 L422.00,214.76 L422.20,214.71 L422.40,214.95 L422.50,214.90 L422.90,215.07 L423.00,215.04 L423.10,215.10 L423.20,214.99 L423.40,215.02 L423.60,214.87 L423.70,214.99 L424.00,214.99 L424.20,215.08 L424.30,214.99 L424.70,215.19 L424.90,215.09 L425.10,215.19 L425.20,215.06 L425.30,215.11 L425.50,214.93 L425.60,215.03 L425.90,214.83 L426.40,215.16 L426.60,215.09 L426.70,215.17 L426.90,214.99 L427.20,214.97 L427.50,214.73 L427.70,214.73 L427.80,214.85 L428.00,214.76 L428.10,214.85 L428.20,214.80 L428.30,214.91 L428.40,214.93 L428.50,214.84 L428.70,215.05 L429.00,214.99 L429.20,215.19 L429.40,214.99 L429.50,215.05 L429.80,215.01 L430.00,214.77 L430.10,214.91 L430.40,214.92 L430.60,215.08 L430.70,214.95 L430.80,214.98 L430.90,214.85 L431.10,214.97 L431.30,214.93 L431.60,215.14 L431.80,215.03 L432.00,215.04 L432.20,214.81 L432.40,214.99 L432.50,214.87 L432.70,215.01 L432.80,214.89 L432.90,215.02 L433.00,214.93 L433.30,214.98 L433.60,214.97 L433.90,215.23 L434.00,215.25 L434.20,215.10 L434.40,215.23 L434.50,215.13 L434.60,215.16 L434.80,214.95 L434.90,214.94 L435.00,215.04 L435.40,215.18 L435.50,215.09 L435.60,215.16 L435.70,215.02 L435.80,215.00 L435.90,214.89 L436.00,214.87 L436.30,215.16 L436.50,215.10 L436.60,214.99 L436.70,214.98 L436.80,215.07 L436.90,215.01 L437.00,215.08 L437.10,215.01 L437.20,215.07 L437.30,214.97 L437.40,215.08 L437.60,214.85 L437.90,215.02 L438.00,214.98 L438.10,215.03 L438.70,214.70 L438.90,214.82 L439.20,214.84 L439.30,214.94 L439.40,214.82 L439.60,215.02 L439.80,215.05 L439.90,215.15 L440.10,214.90 L440.70,214.94 L440.80,215.04 L440.90,214.91 L441.00,214.96 L441.10,214.85 L441.20,214.96 L441.30,214.90 L441.40,214.98 L441.50,214.93 L441.70,214.97 L441.80,215.08 L442.20,214.94 L442.30,215.05 L442.60,214.83 L442.80,215.02 L443.00,215.13 L443.10,215.02 L443.30,215.14 L443.50,214.91 L443.80,214.90 L443.90,214.97 L444.30,214.76 L444.50,214.84 L444.70,214.75 L444.80,214.84 L444.90,214.76 L445.10,214.93 L445.30,214.76 L445.40,214.88 L445.50,214.78 L445.80,214.96 L445.90,214.88 L446.00,214.95 L446.10,214.89 L446.30,215.05 L446.40,215.05 L446.60,214.88 L446.70,214.87 L446.90,215.04 L447.40,214.91 L447.50,215.03 L447.70,214.93 L447.80,214.96 L448.00,214.81 L448.20,214.93 L448.50,214.82 L448.60,214.87 L448.90,214.88 L449.10,214.77 L449.20,214.89 L449.30,214.83 L449.40,214.91 L449.50,214.82 L449.80,214.90 L450.00,214.73 L450.10,214.75 L450.20,214.89 L450.50,215.00 L450.60,215.11 L450.70,214.97 L450.80,215.06 L451.00,214.90 L451.20,214.90 L451.40,215.13 L451.50,215.15 L451.70,214.96 L452.50,214.70 L452.70,214.96 L453.00,215.18 L453.20,214.90 L453.40,214.89 L453.50,215.03 L453.60,214.89 L453.80,215.03 L453.90,214.95 L454.10,215.10 L454.20,214.97 L454.50,215.05 L454.60,214.94 L454.70,214.98 L454.90,214.76 L455.30,214.75 L455.40,214.91 L455.70,214.88 L455.80,214.99 L455.90,214.90 L456.00,215.02 L456.10,214.93 L456.20,215.03 L456.40,215.01 L456.50,214.93 L456.60,215.01 L456.70,214.93 L457.20,215.23 L457.30,215.09 L457.40,215.14 L457.50,215.00 L457.70,215.15 L457.90,214.89 L458.00,214.98 L458.10,214.94 L458.40,215.15 L458.50,215.11 L458.80,215.24 L458.90,215.15 L459.00,215.21 L459.10,215.14 L459.20,215.20 L459.40,215.08 L459.60,214.84 L459.70,214.97 L460.20,215.03 L460.40,214.88 L460.50,214.93 L460.60,214.85 L460.70,214.98 L460.80,214.86 L461.10,215.05 L461.30,214.84 L461.40,214.92 L461.70,214.74 L461.80,214.83 L462.00,214.72 L462.10,214.88 L462.20,214.83 L462.30,214.94 L462.60,214.70 L463.10,215.06 L463.20,214.94 L463.30,214.93 L463.40,214.82 L463.50,214.92 L463.70,214.90 L463.90,215.12 L464.10,215.05 L464.30,215.17 L464.50,215.03 L464.80,215.26 L465.00,215.06 L465.10,215.14 L465.20,215.03 L465.40,214.99 L465.50,215.07 L465.70,214.97 L466.00,215.19 L466.20,214.93 L466.40,214.97 L466.50,215.07 L466.70,214.90 L466.90,214.85 L467.20,215.10 L467.30,214.97 L467.40,214.98 L467.50,214.90 L467.60,215.03 L467.70,214.93 L467.90,215.02 L468.00,214.93" fill="none" stroke="#000" stroke-width="1.35" stroke-linejoin="round"/>
<rect x="190.3" y="178.8" width="2.2" height="18.5" fill="#111"/>
<rect x="276.7" y="199" width="2.5" height="16.25" fill="#727272"/>
<rect x="306.2" y="203" width="3" height="12.25" fill="#727272"/>
<rect x="402" y="168" width="3" height="47.25" fill="#727272"/>
<rect x="468.05" y="6.5" width="1.3" height="219.25" fill="#999"/>
<rect x="36.5" y="224.55" width="432.8" height="1.2" fill="#999"/>
<rect x="35.95" y="5.95" width="433.3" height="1.1" fill="#1e1e1e"/>
<rect x="35.95" y="5.95" width="1.1" height="219.75" fill="#1e1e1e"/>
<line x1="31.9" y1="225.15" x2="36.5" y2="225.15" stroke="#111" stroke-width="1.0"/>
<text x="31" y="228.25" font-size="6.9" font-weight="bold" fill="#111" stroke="#111" stroke-width="0.2" text-anchor="end" textLength="13.2" lengthAdjust="spacingAndGlyphs">2272</text>
<line x1="31.9" y1="220.84" x2="36.5" y2="220.84" stroke="#111" stroke-width="1.0"/>
<line x1="31.9" y1="205.43" x2="36.5" y2="205.43" stroke="#111" stroke-width="1.0"/>
<text x="31" y="208.53" font-size="6.9" font-weight="bold" fill="#111" stroke="#111" stroke-width="0.2" text-anchor="end" textLength="13.2" lengthAdjust="spacingAndGlyphs">2400</text>
<line x1="31.9" y1="190.02" x2="36.5" y2="190.02" stroke="#111" stroke-width="1.0"/>
<text x="31" y="193.12" font-size="6.9" font-weight="bold" fill="#111" stroke="#111" stroke-width="0.2" text-anchor="end" textLength="13.2" lengthAdjust="spacingAndGlyphs">2500</text>
<line x1="31.9" y1="174.61" x2="36.5" y2="174.61" stroke="#111" stroke-width="1.0"/>
<text x="31" y="177.71" font-size="6.9" font-weight="bold" fill="#111" stroke="#111" stroke-width="0.2" text-anchor="end" textLength="13.2" lengthAdjust="spacingAndGlyphs">2600</text>
<line x1="31.9" y1="159.2" x2="36.5" y2="159.2" stroke="#111" stroke-width="1.0"/>
<text x="31" y="162.3" font-size="6.9" font-weight="bold" fill="#111" stroke="#111" stroke-width="0.2" text-anchor="end" textLength="13.2" lengthAdjust="spacingAndGlyphs">2700</text>
<line x1="31.9" y1="143.79" x2="36.5" y2="143.79" stroke="#111" stroke-width="1.0"/>
<text x="31" y="146.89" font-size="6.9" font-weight="bold" fill="#111" stroke="#111" stroke-width="0.2" text-anchor="end" textLength="13.2" lengthAdjust="spacingAndGlyphs">2800</text>
<line x1="31.9" y1="128.38" x2="36.5" y2="128.38" stroke="#111" stroke-width="1.0"/>
<text x="31" y="131.48" font-size="6.9" font-weight="bold" fill="#111" stroke="#111" stroke-width="0.2" text-anchor="end" textLength="13.2" lengthAdjust="spacingAndGlyphs">2900</text>
<line x1="31.9" y1="112.97" x2="36.5" y2="112.97" stroke="#111" stroke-width="1.0"/>
<text x="31" y="116.07" font-size="6.9" font-weight="bold" fill="#111" stroke="#111" stroke-width="0.2" text-anchor="end" textLength="13.2" lengthAdjust="spacingAndGlyphs">3000</text>
<line x1="31.9" y1="97.57" x2="36.5" y2="97.57" stroke="#111" stroke-width="1.0"/>
<text x="31" y="100.67" font-size="6.9" font-weight="bold" fill="#111" stroke="#111" stroke-width="0.2" text-anchor="end" textLength="13.2" lengthAdjust="spacingAndGlyphs">3100</text>
<line x1="31.9" y1="82.16" x2="36.5" y2="82.16" stroke="#111" stroke-width="1.0"/>
<text x="31" y="85.26" font-size="6.9" font-weight="bold" fill="#111" stroke="#111" stroke-width="0.2" text-anchor="end" textLength="13.2" lengthAdjust="spacingAndGlyphs">3200</text>
<line x1="31.9" y1="66.75" x2="36.5" y2="66.75" stroke="#111" stroke-width="1.0"/>
<text x="31" y="69.85" font-size="6.9" font-weight="bold" fill="#111" stroke="#111" stroke-width="0.2" text-anchor="end" textLength="13.2" lengthAdjust="spacingAndGlyphs">3300</text>
<line x1="31.9" y1="51.34" x2="36.5" y2="51.34" stroke="#111" stroke-width="1.0"/>
<text x="31" y="54.44" font-size="6.9" font-weight="bold" fill="#111" stroke="#111" stroke-width="0.2" text-anchor="end" textLength="13.2" lengthAdjust="spacingAndGlyphs">3400</text>
<line x1="31.9" y1="35.93" x2="36.5" y2="35.93" stroke="#111" stroke-width="1.0"/>
<text x="31" y="39.03" font-size="6.9" font-weight="bold" fill="#111" stroke="#111" stroke-width="0.2" text-anchor="end" textLength="13.2" lengthAdjust="spacingAndGlyphs">3500</text>
<line x1="31.9" y1="20.52" x2="36.5" y2="20.52" stroke="#111" stroke-width="1.0"/>
<text x="31" y="23.62" font-size="6.9" font-weight="bold" fill="#111" stroke="#111" stroke-width="0.2" text-anchor="end" textLength="13.2" lengthAdjust="spacingAndGlyphs">3600</text>
<line x1="31.9" y1="6.5" x2="36.5" y2="6.5" stroke="#111" stroke-width="1.0"/>
<text x="31" y="9.6" font-size="6.9" font-weight="bold" fill="#111" stroke="#111" stroke-width="0.2" text-anchor="end" textLength="13.2" lengthAdjust="spacingAndGlyphs">3691</text>
<line x1="190.5" y1="225.15" x2="190.5" y2="228.95" stroke="#222" stroke-width="0.9"/>
<text transform="translate(192.7,230.15) rotate(-90)" font-size="6.3" font-weight="bold" fill="#1a1a1a" stroke="#1a1a1a" stroke-width="0.15" text-anchor="end" textLength="3" lengthAdjust="spacingAndGlyphs">1</text>
<line x1="216.8" y1="225.15" x2="216.8" y2="228.95" stroke="#222" stroke-width="0.9"/>
<text transform="translate(219,230.15) rotate(-90)" font-size="6.3" font-weight="bold" fill="#1a1a1a" stroke="#1a1a1a" stroke-width="0.15" text-anchor="end" textLength="6" lengthAdjust="spacingAndGlyphs">35</text>
<line x1="238.2" y1="225.15" x2="238.2" y2="228.95" stroke="#222" stroke-width="0.9"/>
<text transform="translate(240.4,230.15) rotate(-90)" font-size="6.3" font-weight="bold" fill="#1a1a1a" stroke="#1a1a1a" stroke-width="0.15" text-anchor="end" textLength="6" lengthAdjust="spacingAndGlyphs">75</text>
<line x1="250.3" y1="225.15" x2="250.3" y2="228.95" stroke="#222" stroke-width="0.9"/>
<text transform="translate(252.5,230.15) rotate(-90)" font-size="6.3" font-weight="bold" fill="#1a1a1a" stroke="#1a1a1a" stroke-width="0.15" text-anchor="end" textLength="9" lengthAdjust="spacingAndGlyphs">100</text>
<line x1="273.6" y1="225.15" x2="273.6" y2="228.95" stroke="#222" stroke-width="0.9"/>
<text transform="translate(275.8,230.15) rotate(-90)" font-size="6.3" font-weight="bold" fill="#1a1a1a" stroke="#1a1a1a" stroke-width="0.15" text-anchor="end" textLength="9" lengthAdjust="spacingAndGlyphs">150</text>
<line x1="294.8" y1="225.15" x2="294.8" y2="228.95" stroke="#222" stroke-width="0.9"/>
<text transform="translate(297,230.15) rotate(-90)" font-size="6.3" font-weight="bold" fill="#1a1a1a" stroke="#1a1a1a" stroke-width="0.15" text-anchor="end" textLength="9" lengthAdjust="spacingAndGlyphs">200</text>
<line x1="316.5" y1="225.15" x2="316.5" y2="228.95" stroke="#222" stroke-width="0.9"/>
<text transform="translate(318.7,230.15) rotate(-90)" font-size="6.3" font-weight="bold" fill="#1a1a1a" stroke="#1a1a1a" stroke-width="0.15" text-anchor="end" textLength="9" lengthAdjust="spacingAndGlyphs">250</text>
<line x1="335.5" y1="225.15" x2="335.5" y2="228.95" stroke="#222" stroke-width="0.9"/>
<text transform="translate(337.7,230.15) rotate(-90)" font-size="6.3" font-weight="bold" fill="#1a1a1a" stroke="#1a1a1a" stroke-width="0.15" text-anchor="end" textLength="9" lengthAdjust="spacingAndGlyphs">300</text>
<line x1="371.3" y1="225.15" x2="371.3" y2="228.95" stroke="#222" stroke-width="0.9"/>
<text transform="translate(373.5,230.15) rotate(-90)" font-size="6.3" font-weight="bold" fill="#1a1a1a" stroke="#1a1a1a" stroke-width="0.15" text-anchor="end" textLength="9" lengthAdjust="spacingAndGlyphs">400</text>
<line x1="403.8" y1="225.15" x2="403.8" y2="228.95" stroke="#222" stroke-width="0.9"/>
<text transform="translate(406,230.15) rotate(-90)" font-size="6.3" font-weight="bold" fill="#1a1a1a" stroke="#1a1a1a" stroke-width="0.15" text-anchor="end" textLength="9" lengthAdjust="spacingAndGlyphs">500</text>
<text x="265" y="254.15" font-size="6.9" font-weight="bold" fill="#1a1a1a" text-anchor="middle" textLength="26.6" lengthAdjust="spacingAndGlyphs">Size (bp)</text>
<text transform="translate(12.7,118) rotate(-90)" font-size="6.6" font-weight="bold" fill="#111" stroke="#111" stroke-width="0.2" text-anchor="middle" textLength="11.8" lengthAdjust="spacingAndGlyphs">RFU</text>
<text x="37.1" y="14.8" font-size="8.7" font-weight="bold" fill="#1a1a6a" stroke="#1a1a6a" stroke-width="0.35" textLength="27.4" lengthAdjust="spacingAndGlyphs">E3:&#8201;9535</text>
<text transform="scale(1.0 1)" x="52.4" y="38.4" font-size="11.2" fill="#000" stroke="#000" stroke-width="0.3" textLength="14" lengthAdjust="spacingAndGlyphs">IL8</text>
<text transform="scale(0.86 1)" x="81.28" y="38.4" font-size="11.2" fill="#000" stroke="#000" stroke-width="0.3" textLength="61.28" lengthAdjust="spacing">rs2227543</text>
<text transform="scale(0.86 1)" x="148.37" y="38.4" font-size="11.2" fill="#000" stroke="#000" stroke-width="0.3" textLength="40.47" lengthAdjust="spacing">(+1633</text>
<text transform="scale(0.86 1)" x="193.02" y="38.4" font-size="11.2" fill="#000" stroke="#000" stroke-width="0.3" textLength="26.28" lengthAdjust="spacing">C&gt;T)</text>
<text transform="scale(1.0 1)" x="192.2" y="38.4" font-size="11.2" fill="#000" stroke="#000" stroke-width="0.3" textLength="20.1" lengthAdjust="spacingAndGlyphs">C/C</text>
<text x="191.5" y="84.7" font-size="6.6" font-weight="bold" fill="#cc1830" text-anchor="middle" textLength="10.4" lengthAdjust="spacingAndGlyphs">LM</text>
<text transform="translate(204.1,184.2) rotate(-90)" font-size="6.4" font-weight="bold" fill="#2e2896" stroke="#2e2896" stroke-width="0.2" text-anchor="middle" textLength="5.4" lengthAdjust="spacingAndGlyphs">16</text>
<text transform="translate(279.8,113.6) rotate(-90)" font-size="6.4" font-weight="bold" fill="#2e2896" stroke="#2e2896" stroke-width="0.2" text-anchor="middle" textLength="9.8" lengthAdjust="spacingAndGlyphs">159</text>
<text transform="translate(309.6,88.7) rotate(-90)" font-size="6.4" font-weight="bold" fill="#2e2896" stroke="#2e2896" stroke-width="0.2" text-anchor="middle" textLength="10.6" lengthAdjust="spacingAndGlyphs">229</text>
<text x="403.6" y="38.5" font-size="6.6" font-weight="bold" fill="#cc1830" text-anchor="middle" textLength="10.4" lengthAdjust="spacingAndGlyphs">UM</text>
<rect x="504.4" y="275.8" width="34.6" height="232.35" fill="#fcfcfc"/>
<rect x="505" y="292.2" width="33.4" height="1" fill="#c4c4c4"/>
<rect x="505" y="321" width="33.4" height="2.6" fill="#000000"/>
<rect x="505" y="381.4" width="33.4" height="1.2" fill="#b4b4b4"/>
<rect x="505" y="409.9" width="33.4" height="1.2" fill="#b8b8b8"/>
<rect x="505" y="492.2" width="33.4" height="1" fill="#d8d8d8"/>
<rect x="472.9" y="292.3" width="28.9" height="1.2" fill="#2a2870"/>
<text x="490.4" y="293.2" font-size="5.0" font-weight="bold" fill="#2020a0" stroke="#2020a0" stroke-width="0.12" text-anchor="middle" textLength="9" lengthAdjust="spacingAndGlyphs">500</text>
<rect x="472.9" y="322.9" width="28.9" height="1.2" fill="#2a2870"/>
<text x="476.2" y="323.8" font-size="5.0" font-weight="bold" fill="#2020a0" stroke="#2020a0" stroke-width="0.12">400</text>
<rect x="472.9" y="356.9" width="28.9" height="1.2" fill="#2a2870"/>
<text x="490.4" y="357.8" font-size="5.0" font-weight="bold" fill="#2020a0" stroke="#2020a0" stroke-width="0.12" text-anchor="middle" textLength="9" lengthAdjust="spacingAndGlyphs">300</text>
<rect x="472.9" y="374.3" width="28.9" height="1.2" fill="#2a2870"/>
<text x="476.2" y="375.2" font-size="5.0" font-weight="bold" fill="#2020a0" stroke="#2020a0" stroke-width="0.12">250</text>
<rect x="472.9" y="394.8" width="28.9" height="1.2" fill="#2a2870"/>
<text x="490.4" y="395.7" font-size="5.0" font-weight="bold" fill="#2020a0" stroke="#2020a0" stroke-width="0.12" text-anchor="middle" textLength="9" lengthAdjust="spacingAndGlyphs">200</text>
<rect x="472.9" y="415" width="28.9" height="1.2" fill="#2a2870"/>
<text x="476.2" y="415.9" font-size="5.0" font-weight="bold" fill="#2020a0" stroke="#2020a0" stroke-width="0.12">150</text>
<rect x="472.9" y="436.9" width="28.9" height="1.2" fill="#2a2870"/>
<text x="490.4" y="437.8" font-size="5.0" font-weight="bold" fill="#2020a0" stroke="#2020a0" stroke-width="0.12" text-anchor="middle" textLength="9" lengthAdjust="spacingAndGlyphs">100</text>
<rect x="472.9" y="448" width="28.9" height="1.2" fill="#2a2870"/>
<text x="476.2" y="448.9" font-size="5.0" font-weight="bold" fill="#2020a0" stroke="#2020a0" stroke-width="0.12">75</text>
<rect x="472.9" y="468.7" width="28.9" height="1.2" fill="#2a2870"/>
<text x="490.4" y="469.6" font-size="5.0" font-weight="bold" fill="#2020a0" stroke="#2020a0" stroke-width="0.12" text-anchor="middle" textLength="6" lengthAdjust="spacingAndGlyphs">35</text>
<rect x="472.9" y="493" width="28.9" height="1.2" fill="#2a2870"/>
<text x="476.2" y="493.9" font-size="5.0" font-weight="bold" fill="#2020a0" stroke="#2020a0" stroke-width="0.12">1</text>
<rect x="188.15" y="456" width="0.9" height="28.4" fill="#ecbc9c"/>
<rect x="198.05" y="456" width="0.9" height="28.4" fill="#ecbc9c"/>
<rect x="273.15" y="456" width="0.9" height="28.4" fill="#ecbc9c"/>
<rect x="285.45" y="456" width="0.9" height="28.4" fill="#ecbc9c"/>
<rect x="304.55" y="456" width="0.9" height="28.4" fill="#ecbc9c"/>
<rect x="315.95" y="456" width="0.9" height="28.4" fill="#ecbc9c"/>
<rect x="360.35" y="456" width="0.9" height="28.4" fill="#ecbc9c"/>
<rect x="366.95" y="456" width="0.9" height="28.4" fill="#ecbc9c"/>
<rect x="380.05" y="456" width="0.9" height="28.4" fill="#ecbc9c"/>
<rect x="400.45" y="456" width="0.9" height="28.4" fill="#ecbc9c"/>
<rect x="406.15" y="456" width="0.9" height="28.4" fill="#ecbc9c"/>
<rect x="188.6" y="484.4" width="9.9" height="0.8" fill="#e87878" opacity="0.7"/>
<rect x="273.6" y="484.4" width="12.3" height="0.8" fill="#e87878" opacity="0.7"/>
<rect x="305" y="484.4" width="11.4" height="0.8" fill="#e87878" opacity="0.7"/>
<rect x="360.8" y="484.4" width="6.6" height="0.8" fill="#e87878" opacity="0.7"/>
<rect x="367.4" y="484.4" width="13.1" height="0.8" fill="#e87878" opacity="0.7"/>
<rect x="400.9" y="484.4" width="5.7" height="0.8" fill="#e87878" opacity="0.7"/>
<path d="M37.10,483.90 L38.60,483.91 L40.10,483.90 L41.60,483.89 L43.10,483.90 L44.60,483.89 L46.10,483.90 L47.60,483.87 L49.10,483.91 L50.60,483.92 L52.10,483.89 L53.60,483.91 L55.10,483.89 L56.60,483.93 L58.10,483.89 L59.60,483.92 L61.10,483.91 L62.60,483.91 L64.10,483.88 L65.70,483.89 L67.30,483.89 L68.90,483.90 L70.50,483.91 L72.10,483.88 L73.70,483.89 L75.30,483.90 L76.90,483.91 L78.50,483.90 L80.10,483.91 L81.70,483.90 L83.30,483.91 L84.90,483.88 L86.50,483.90 L88.10,483.91 L89.70,483.90 L91.30,483.88 L92.90,483.87 L94.50,483.90 L96.10,483.89 L97.70,483.92 L99.30,483.92 L100.90,483.92 L102.50,483.88 L104.10,483.91 L105.70,483.90 L107.30,483.91 L108.90,483.90 L110.50,483.91 L112.10,483.89 L113.70,483.88 L115.30,483.89 L116.90,483.91 L118.50,483.90 L120.10,483.89 L121.70,483.91 L123.30,483.91 L124.90,483.90 L126.50,483.90 L128.10,483.90 L129.70,483.92 L131.30,483.89 L132.90,483.88 L134.50,483.89 L136.10,483.92 L137.70,483.89 L139.30,483.89 L140.90,483.91 L142.50,483.90 L144.10,483.92 L145.70,483.90 L147.30,483.91 L148.90,483.87 L150.50,483.89 L152.10,483.88 L153.70,483.91 L155.30,483.89 L156.90,483.90 L158.50,483.91 L160.10,483.89 L161.70,483.89 L163.30,483.93 L164.90,483.90 L166.50,483.88 L168.10,483.91 L169.70,483.91 L171.30,483.91 L172.90,483.91 L174.50,483.89 L176.10,483.88 L177.70,483.91 L179.30,483.90 L180.90,483.89 L182.50,483.91 L184.10,483.90 L185.70,483.88 L187.30,483.92 L188.90,483.90 L190.50,483.90 L191.00,483.87 L191.10,483.77 L191.30,482.71 L191.80,468.12 L191.90,466.91 L192.00,468.13 L192.30,478.70 L193.90,482.08 L195.50,483.24 L197.10,483.65 L198.70,483.82 L200.30,483.85 L201.90,483.87 L203.50,483.91 L205.10,483.91 L206.70,483.92 L208.30,483.89 L209.90,483.90 L211.50,483.90 L213.10,483.90 L214.70,483.90 L216.30,483.89 L217.90,483.89 L219.50,483.91 L221.10,483.91 L222.70,483.90 L224.30,483.89 L225.90,483.90 L227.50,483.87 L229.10,483.88 L230.70,483.92 L232.30,483.88 L233.90,483.90 L235.50,483.91 L237.10,483.89 L238.70,483.92 L240.30,483.91 L241.90,483.93 L243.50,483.91 L245.10,483.90 L246.70,483.92 L248.30,483.91 L249.90,483.91 L251.50,483.90 L253.10,483.90 L254.70,483.89 L256.30,483.89 L257.80,483.92 L259.30,483.89 L260.80,483.90 L262.30,483.89 L263.80,483.91 L265.30,483.91 L266.80,483.89 L268.30,483.90 L269.80,483.89 L271.30,483.93 L272.80,483.89 L274.30,483.88 L275.80,483.89 L277.10,483.89 L277.30,483.68 L277.40,483.20 L277.60,479.24 L278.10,440.99 L278.20,441.00 L278.60,474.14 L278.70,476.83 L279.60,481.28 L280.60,483.04 L282.10,483.74 L283.60,483.86 L285.10,483.89 L286.60,483.88 L288.10,483.90 L289.60,483.88 L291.10,483.90 L292.60,483.90 L294.10,483.89 L295.60,483.90 L297.10,483.92 L298.60,483.91 L300.10,483.90 L301.60,483.89 L303.10,483.88 L304.60,483.89 L306.10,483.89 L306.90,483.89 L307.00,483.83 L307.10,483.64 L307.20,483.09 L307.40,478.33 L307.90,432.76 L308.00,432.75 L308.50,478.34 L308.70,483.09 L308.80,483.66 L308.90,483.85 L310.40,483.91 L311.90,483.90 L313.40,483.93 L314.90,483.90 L316.40,483.90 L317.90,483.90 L319.40,483.93 L320.90,483.89 L322.40,483.90 L323.90,483.90 L325.40,483.92 L326.90,483.89 L328.40,483.91 L329.90,483.91 L331.40,483.90 L332.90,483.91 L334.40,483.90 L335.90,483.90 L337.40,483.89 L338.90,483.91 L340.40,483.91 L341.90,483.90 L343.40,483.90 L344.90,483.90 L346.40,483.90 L347.90,483.88 L349.40,483.89 L350.90,483.89 L352.40,483.91 L353.90,483.92 L355.40,483.90 L356.90,483.92 L358.40,483.91 L359.90,483.87 L361.40,483.74 L362.90,482.98 L364.40,481.84 L365.40,481.77 L366.90,482.82 L368.40,483.68 L369.10,483.82 L369.20,483.45 L369.30,478.85 L369.60,369.00 L370.30,369.01 L370.60,309.99 L370.70,322.38 L370.90,368.99 L372.40,369.01 L372.60,369.02 L372.80,455.26 L372.90,457.70 L374.40,466.52 L375.30,470.50 L376.80,480.36 L377.00,481.49 L377.90,483.39 L378.00,483.90 L379.50,483.91 L381.00,483.89 L382.50,483.87 L384.00,483.89 L385.50,483.90 L387.00,483.92 L388.50,483.89 L390.00,483.91 L391.50,483.89 L393.00,483.90 L394.50,483.89 L396.00,483.89 L397.50,483.91 L399.00,483.92 L400.50,483.89 L401.50,483.86 L401.60,483.79 L401.70,483.53 L401.90,481.36 L402.40,460.52 L402.50,460.53 L403.00,481.37 L403.20,483.54 L403.30,483.81 L404.80,483.89 L406.30,483.89 L407.80,483.88 L409.30,483.90 L410.80,483.90 L412.30,483.88 L413.80,483.89 L415.30,483.88 L416.80,483.90 L418.30,483.90 L419.80,483.91 L421.30,483.88 L422.80,483.90 L424.30,483.88 L425.80,483.89 L427.30,483.90 L428.80,483.90 L430.30,483.91 L431.80,483.89 L433.30,483.93 L434.80,483.91 L436.30,483.90 L437.80,483.89 L439.30,483.90 L440.80,483.90 L442.30,483.91 L443.80,483.89 L445.30,483.89 L446.80,483.91 L448.30,483.91 L449.80,483.89 L451.30,483.90 L452.80,483.89 L454.30,483.91 L455.80,483.89 L457.30,483.90 L458.80,483.90 L460.30,483.90 L461.80,483.89 L463.30,483.91 L464.80,483.91 L466.30,483.92 L467.80,483.90 L468.10,483.89" fill="none" stroke="#000" stroke-width="1.35" stroke-linejoin="round"/>
<rect x="306.7" y="462.3" width="2.6" height="21.9" fill="#727272"/>
<rect x="369.1" y="369.5" width="4" height="70.5" fill="#727272"/>
<rect x="369" y="440" width="1.3" height="44.2" fill="#727272"/>
<rect x="468.15" y="274.3" width="1.3" height="218.95" fill="#999"/>
<rect x="36.5" y="492.05" width="432.9" height="1.2" fill="#999"/>
<rect x="35.95" y="273.75" width="433.4" height="1.1" fill="#1e1e1e"/>
<rect x="35.95" y="273.75" width="1.1" height="219.45" fill="#1e1e1e"/>
<line x1="31.9" y1="492.65" x2="36.5" y2="492.65" stroke="#111" stroke-width="1.0"/>
<text x="31" y="495.75" font-size="6.9" font-weight="bold" fill="#111" stroke="#111" stroke-width="0.2" text-anchor="end" textLength="13.2" lengthAdjust="spacingAndGlyphs">1518</text>
<line x1="31.9" y1="482.08" x2="36.5" y2="482.08" stroke="#111" stroke-width="1.0"/>
<text x="31" y="485.18" font-size="6.9" font-weight="bold" fill="#111" stroke="#111" stroke-width="0.2" text-anchor="end" textLength="13.2" lengthAdjust="spacingAndGlyphs">2000</text>
<line x1="31.9" y1="460.15" x2="36.5" y2="460.15" stroke="#111" stroke-width="1.0"/>
<text x="31" y="463.25" font-size="6.9" font-weight="bold" fill="#111" stroke="#111" stroke-width="0.2" text-anchor="end" textLength="13.2" lengthAdjust="spacingAndGlyphs">3000</text>
<line x1="31.9" y1="438.22" x2="36.5" y2="438.22" stroke="#111" stroke-width="1.0"/>
<text x="31" y="441.32" font-size="6.9" font-weight="bold" fill="#111" stroke="#111" stroke-width="0.2" text-anchor="end" textLength="13.2" lengthAdjust="spacingAndGlyphs">4000</text>
<line x1="31.9" y1="416.29" x2="36.5" y2="416.29" stroke="#111" stroke-width="1.0"/>
<text x="31" y="419.39" font-size="6.9" font-weight="bold" fill="#111" stroke="#111" stroke-width="0.2" text-anchor="end" textLength="13.2" lengthAdjust="spacingAndGlyphs">5000</text>
<line x1="31.9" y1="394.36" x2="36.5" y2="394.36" stroke="#111" stroke-width="1.0"/>
<text x="31" y="397.46" font-size="6.9" font-weight="bold" fill="#111" stroke="#111" stroke-width="0.2" text-anchor="end" textLength="13.2" lengthAdjust="spacingAndGlyphs">6000</text>
<line x1="31.9" y1="372.43" x2="36.5" y2="372.43" stroke="#111" stroke-width="1.0"/>
<text x="31" y="375.53" font-size="6.9" font-weight="bold" fill="#111" stroke="#111" stroke-width="0.2" text-anchor="end" textLength="13.2" lengthAdjust="spacingAndGlyphs">7000</text>
<line x1="31.9" y1="350.5" x2="36.5" y2="350.5" stroke="#111" stroke-width="1.0"/>
<text x="31" y="353.6" font-size="6.9" font-weight="bold" fill="#111" stroke="#111" stroke-width="0.2" text-anchor="end" textLength="13.2" lengthAdjust="spacingAndGlyphs">8000</text>
<line x1="31.9" y1="328.58" x2="36.5" y2="328.58" stroke="#111" stroke-width="1.0"/>
<text x="31" y="331.68" font-size="6.9" font-weight="bold" fill="#111" stroke="#111" stroke-width="0.2" text-anchor="end" textLength="13.2" lengthAdjust="spacingAndGlyphs">9000</text>
<line x1="31.9" y1="306.65" x2="36.5" y2="306.65" stroke="#111" stroke-width="1.0"/>
<text x="31" y="309.75" font-size="6.9" font-weight="bold" fill="#111" stroke="#111" stroke-width="0.2" text-anchor="end" textLength="16.5" lengthAdjust="spacingAndGlyphs">10000</text>
<line x1="31.9" y1="284.72" x2="36.5" y2="284.72" stroke="#111" stroke-width="1.0"/>
<text x="31" y="287.82" font-size="6.9" font-weight="bold" fill="#111" stroke="#111" stroke-width="0.2" text-anchor="end" textLength="16.5" lengthAdjust="spacingAndGlyphs">11000</text>
<line x1="31.9" y1="274.3" x2="36.5" y2="274.3" stroke="#111" stroke-width="1.0"/>
<text x="31" y="277.4" font-size="6.9" font-weight="bold" fill="#111" stroke="#111" stroke-width="0.2" text-anchor="end" textLength="16.5" lengthAdjust="spacingAndGlyphs">11475</text>
<line x1="190.9" y1="492.65" x2="190.9" y2="496.45" stroke="#222" stroke-width="0.9"/>
<text transform="translate(193.1,497.65) rotate(-90)" font-size="6.3" font-weight="bold" fill="#1a1a1a" stroke="#1a1a1a" stroke-width="0.15" text-anchor="end" textLength="3" lengthAdjust="spacingAndGlyphs">1</text>
<line x1="216.8" y1="492.65" x2="216.8" y2="496.45" stroke="#222" stroke-width="0.9"/>
<text transform="translate(219,497.65) rotate(-90)" font-size="6.3" font-weight="bold" fill="#1a1a1a" stroke="#1a1a1a" stroke-width="0.15" text-anchor="end" textLength="6" lengthAdjust="spacingAndGlyphs">35</text>
<line x1="238.2" y1="492.65" x2="238.2" y2="496.45" stroke="#222" stroke-width="0.9"/>
<text transform="translate(240.4,497.65) rotate(-90)" font-size="6.3" font-weight="bold" fill="#1a1a1a" stroke="#1a1a1a" stroke-width="0.15" text-anchor="end" textLength="6" lengthAdjust="spacingAndGlyphs">75</text>
<line x1="250.5" y1="492.65" x2="250.5" y2="496.45" stroke="#222" stroke-width="0.9"/>
<text transform="translate(252.7,497.65) rotate(-90)" font-size="6.3" font-weight="bold" fill="#1a1a1a" stroke="#1a1a1a" stroke-width="0.15" text-anchor="end" textLength="9" lengthAdjust="spacingAndGlyphs">100</text>
<line x1="273.7" y1="492.65" x2="273.7" y2="496.45" stroke="#222" stroke-width="0.9"/>
<text transform="translate(275.9,497.65) rotate(-90)" font-size="6.3" font-weight="bold" fill="#1a1a1a" stroke="#1a1a1a" stroke-width="0.15" text-anchor="end" textLength="9" lengthAdjust="spacingAndGlyphs">150</text>
<line x1="294.9" y1="492.65" x2="294.9" y2="496.45" stroke="#222" stroke-width="0.9"/>
<text transform="translate(297.1,497.65) rotate(-90)" font-size="6.3" font-weight="bold" fill="#1a1a1a" stroke="#1a1a1a" stroke-width="0.15" text-anchor="end" textLength="9" lengthAdjust="spacingAndGlyphs">200</text>
<line x1="315.9" y1="492.65" x2="315.9" y2="496.45" stroke="#222" stroke-width="0.9"/>
<text transform="translate(318.1,497.65) rotate(-90)" font-size="6.3" font-weight="bold" fill="#1a1a1a" stroke="#1a1a1a" stroke-width="0.15" text-anchor="end" textLength="9" lengthAdjust="spacingAndGlyphs">250</text>
<line x1="334.9" y1="492.65" x2="334.9" y2="496.45" stroke="#222" stroke-width="0.9"/>
<text transform="translate(337.1,497.65) rotate(-90)" font-size="6.3" font-weight="bold" fill="#1a1a1a" stroke="#1a1a1a" stroke-width="0.15" text-anchor="end" textLength="9" lengthAdjust="spacingAndGlyphs">300</text>
<line x1="369.8" y1="492.65" x2="369.8" y2="496.45" stroke="#222" stroke-width="0.9"/>
<text transform="translate(372,497.65) rotate(-90)" font-size="6.3" font-weight="bold" fill="#1a1a1a" stroke="#1a1a1a" stroke-width="0.15" text-anchor="end" textLength="9" lengthAdjust="spacingAndGlyphs">400</text>
<line x1="402.6" y1="492.65" x2="402.6" y2="496.45" stroke="#222" stroke-width="0.9"/>
<text transform="translate(404.8,497.65) rotate(-90)" font-size="6.3" font-weight="bold" fill="#1a1a1a" stroke="#1a1a1a" stroke-width="0.15" text-anchor="end" textLength="9" lengthAdjust="spacingAndGlyphs">500</text>
<text x="265" y="521.65" font-size="6.9" font-weight="bold" fill="#1a1a1a" text-anchor="middle" textLength="26.6" lengthAdjust="spacingAndGlyphs">Size (bp)</text>
<text transform="translate(9,386) rotate(-90)" font-size="6.6" font-weight="bold" fill="#111" stroke="#111" stroke-width="0.2" text-anchor="middle" textLength="11.8" lengthAdjust="spacingAndGlyphs">RFU</text>
<text x="37.1" y="282.6" font-size="8.7" font-weight="bold" fill="#1a1a6a" stroke="#1a1a6a" stroke-width="0.35" textLength="27.4" lengthAdjust="spacingAndGlyphs">E2:&#8201;9534</text>
<text transform="scale(1.0 1)" x="52.4" y="305.3" font-size="11.2" fill="#000" stroke="#000" stroke-width="0.3" textLength="14" lengthAdjust="spacingAndGlyphs">IL8</text>
<text transform="scale(0.86 1)" x="81.28" y="305.3" font-size="11.2" fill="#000" stroke="#000" stroke-width="0.3" textLength="61.28" lengthAdjust="spacing">rs2227543</text>
<text transform="scale(0.86 1)" x="148.37" y="305.3" font-size="11.2" fill="#000" stroke="#000" stroke-width="0.3" textLength="40.47" lengthAdjust="spacing">(+1633</text>
<text transform="scale(0.86 1)" x="193.02" y="305.3" font-size="11.2" fill="#000" stroke="#000" stroke-width="0.3" textLength="26.28" lengthAdjust="spacing">C&gt;T)</text>
<text transform="scale(1.0 1)" x="192.2" y="305.3" font-size="11.2" fill="#000" stroke="#000" stroke-width="0.3" textLength="20.1" lengthAdjust="spacingAndGlyphs">C/T</text>
<text x="191.5" y="462.9" font-size="6.6" font-weight="bold" fill="#cc1830" text-anchor="middle" textLength="10.4" lengthAdjust="spacingAndGlyphs">LM</text>
<text transform="translate(280.3,424.75) rotate(-90)" font-size="6.4" font-weight="bold" fill="#2e2896" stroke="#2e2896" stroke-width="0.2" text-anchor="middle" textLength="9.5" lengthAdjust="spacingAndGlyphs">161</text>
<text transform="translate(310.3,415.75) rotate(-90)" font-size="6.4" font-weight="bold" fill="#2e2896" stroke="#2e2896" stroke-width="0.2" text-anchor="middle" textLength="9.7" lengthAdjust="spacingAndGlyphs">231</text>
<text transform="translate(372.8,293.2) rotate(-90)" font-size="6.4" font-weight="bold" fill="#2e2896" stroke="#2e2896" stroke-width="0.2" text-anchor="middle" textLength="10.2" lengthAdjust="spacingAndGlyphs">401</text>
<text transform="translate(364.4,465.9) rotate(-90)" font-size="6.4" font-weight="bold" fill="#2e2896" stroke="#2e2896" stroke-width="0.2" text-anchor="middle" textLength="10" lengthAdjust="spacingAndGlyphs">328</text>
<text transform="translate(367.6,465.9) rotate(-90)" font-size="6.4" font-weight="bold" fill="#2e2896" stroke="#2e2896" stroke-width="0.2" text-anchor="middle" textLength="10" lengthAdjust="spacingAndGlyphs">355</text>
<text x="402.2" y="456.6" font-size="6.6" font-weight="bold" fill="#cc1830" text-anchor="middle" textLength="10.4" lengthAdjust="spacingAndGlyphs">UM</text>
<rect x="507.8" y="533.2" width="34.6" height="232.6" fill="#fcfcfc"/>
<rect x="508.4" y="549.6" width="33.4" height="1" fill="#d0d0d0"/>
<rect x="508.4" y="578.4" width="33.4" height="2.6" fill="#000000"/>
<rect x="508.4" y="749.6" width="33.4" height="1" fill="#d8d8d8"/>
<rect x="476.3" y="549.7" width="28.9" height="1.2" fill="#2a2870"/>
<text x="493.8" y="550.6" font-size="5.0" font-weight="bold" fill="#2020a0" stroke="#2020a0" stroke-width="0.12" text-anchor="middle" textLength="9" lengthAdjust="spacingAndGlyphs">500</text>
<rect x="476.3" y="580.3" width="28.9" height="1.2" fill="#2a2870"/>
<text x="479.6" y="581.2" font-size="5.0" font-weight="bold" fill="#2020a0" stroke="#2020a0" stroke-width="0.12">400</text>
<rect x="476.3" y="614.3" width="28.9" height="1.2" fill="#2a2870"/>
<text x="493.8" y="615.2" font-size="5.0" font-weight="bold" fill="#2020a0" stroke="#2020a0" stroke-width="0.12" text-anchor="middle" textLength="9" lengthAdjust="spacingAndGlyphs">300</text>
<rect x="476.3" y="631.7" width="28.9" height="1.2" fill="#2a2870"/>
<text x="479.6" y="632.6" font-size="5.0" font-weight="bold" fill="#2020a0" stroke="#2020a0" stroke-width="0.12">250</text>
<rect x="476.3" y="652.2" width="28.9" height="1.2" fill="#2a2870"/>
<text x="493.8" y="653.1" font-size="5.0" font-weight="bold" fill="#2020a0" stroke="#2020a0" stroke-width="0.12" text-anchor="middle" textLength="9" lengthAdjust="spacingAndGlyphs">200</text>
<rect x="476.3" y="672.4" width="28.9" height="1.2" fill="#2a2870"/>
<text x="479.6" y="673.3" font-size="5.0" font-weight="bold" fill="#2020a0" stroke="#2020a0" stroke-width="0.12">150</text>
<rect x="476.3" y="694.3" width="28.9" height="1.2" fill="#2a2870"/>
<text x="493.8" y="695.2" font-size="5.0" font-weight="bold" fill="#2020a0" stroke="#2020a0" stroke-width="0.12" text-anchor="middle" textLength="9" lengthAdjust="spacingAndGlyphs">100</text>
<rect x="476.3" y="705.4" width="28.9" height="1.2" fill="#2a2870"/>
<text x="479.6" y="706.3" font-size="5.0" font-weight="bold" fill="#2020a0" stroke="#2020a0" stroke-width="0.12">75</text>
<rect x="476.3" y="726.1" width="28.9" height="1.2" fill="#2a2870"/>
<text x="493.8" y="727" font-size="5.0" font-weight="bold" fill="#2020a0" stroke="#2020a0" stroke-width="0.12" text-anchor="middle" textLength="6" lengthAdjust="spacingAndGlyphs">35</text>
<rect x="476.3" y="750.4" width="28.9" height="1.2" fill="#2a2870"/>
<text x="479.6" y="751.3" font-size="5.0" font-weight="bold" fill="#2020a0" stroke="#2020a0" stroke-width="0.12">1</text>
<rect x="189.35" y="713.2" width="0.9" height="28.55" fill="#ecbc9c"/>
<rect x="200.55" y="713.2" width="0.9" height="28.55" fill="#ecbc9c"/>
<rect x="362.95" y="713.2" width="0.9" height="28.55" fill="#ecbc9c"/>
<rect x="364.85" y="713.2" width="0.9" height="28.55" fill="#ecbc9c"/>
<rect x="366.75" y="713.2" width="0.9" height="28.55" fill="#ecbc9c"/>
<rect x="368.65" y="713.2" width="0.9" height="28.55" fill="#ecbc9c"/>
<rect x="383.95" y="713.2" width="0.9" height="28.55" fill="#ecbc9c"/>
<rect x="402.35" y="713.2" width="0.9" height="28.55" fill="#ecbc9c"/>
<rect x="408.75" y="713.2" width="0.9" height="28.55" fill="#ecbc9c"/>
<rect x="189.8" y="741.75" width="11.2" height="0.8" fill="#e87878" opacity="0.7"/>
<rect x="363.4" y="741.75" width="5.7" height="0.8" fill="#e87878" opacity="0.7"/>
<rect x="369.1" y="741.75" width="15.3" height="0.8" fill="#e87878" opacity="0.7"/>
<rect x="402.8" y="741.75" width="6.4" height="0.8" fill="#e87878" opacity="0.7"/>
<path d="M40.10,741.25 L41.60,741.26 L43.10,741.25 L44.60,741.26 L46.10,741.26 L47.60,741.25 L49.10,741.24 L50.60,741.24 L52.10,741.25 L53.60,741.27 L55.10,741.24 L56.60,741.25 L58.10,741.24 L59.60,741.24 L61.10,741.24 L62.60,741.26 L64.10,741.23 L65.70,741.25 L67.30,741.25 L68.90,741.25 L70.50,741.25 L72.10,741.25 L73.70,741.23 L75.30,741.26 L76.90,741.23 L78.50,741.24 L80.10,741.23 L81.70,741.24 L83.30,741.24 L84.90,741.26 L86.50,741.24 L88.10,741.26 L89.70,741.22 L91.30,741.24 L92.90,741.26 L94.50,741.26 L96.10,741.25 L97.70,741.25 L99.30,741.25 L100.90,741.25 L102.50,741.24 L104.10,741.23 L105.70,741.23 L107.30,741.27 L108.90,741.25 L110.50,741.24 L112.10,741.24 L113.70,741.23 L115.30,741.25 L116.90,741.25 L118.50,741.26 L120.10,741.23 L121.70,741.24 L123.30,741.26 L124.90,741.25 L126.50,741.27 L128.10,741.23 L129.70,741.25 L131.30,741.26 L132.90,741.26 L134.50,741.26 L136.10,741.24 L137.70,741.24 L139.30,741.25 L140.90,741.25 L142.50,741.27 L144.10,741.24 L145.70,741.27 L147.30,741.28 L148.90,741.27 L150.50,741.24 L152.10,741.25 L153.70,741.23 L155.30,741.26 L156.90,741.24 L158.50,741.26 L160.10,741.25 L161.70,741.25 L163.30,741.24 L164.90,741.27 L166.50,741.25 L168.10,741.24 L169.70,741.27 L171.30,741.27 L172.90,741.26 L174.50,741.24 L176.10,741.25 L177.70,741.23 L179.30,741.25 L180.90,741.24 L182.50,741.25 L184.10,741.24 L185.70,741.23 L187.30,741.25 L188.90,741.27 L190.50,741.25 L192.10,741.25 L193.70,741.25 L194.00,741.24 L194.20,741.03 L194.40,739.73 L194.90,727.25 L195.00,727.26 L195.40,737.27 L196.80,739.69 L198.40,740.69 L200.00,741.07 L201.60,741.18 L203.20,741.22 L204.80,741.26 L206.40,741.24 L208.00,741.25 L209.60,741.23 L211.20,741.24 L212.80,741.25 L214.40,741.25 L216.00,741.27 L217.60,741.25 L219.20,741.26 L220.80,741.25 L222.40,741.24 L224.00,741.23 L225.60,741.25 L227.20,741.24 L228.80,741.27 L230.40,741.25 L232.00,741.26 L233.60,741.24 L235.20,741.25 L236.80,741.25 L238.40,741.25 L240.00,741.26 L241.60,741.25 L243.20,741.27 L244.80,741.26 L246.40,741.25 L248.00,741.25 L249.60,741.25 L251.20,741.25 L252.80,741.26 L254.40,741.25 L256.00,741.25 L257.50,741.26 L259.00,741.23 L260.50,741.24 L262.00,741.24 L263.50,741.27 L265.00,741.24 L266.50,741.24 L268.00,741.24 L269.50,741.24 L271.00,741.26 L272.50,741.26 L274.00,741.26 L275.50,741.28 L277.00,741.25 L278.50,741.26 L280.00,741.24 L281.50,741.24 L283.00,741.24 L284.50,741.24 L286.00,741.23 L287.50,741.26 L289.00,741.25 L290.50,741.28 L292.00,741.25 L293.50,741.23 L295.00,741.24 L296.50,741.25 L298.00,741.25 L299.50,741.26 L301.00,741.24 L302.50,741.25 L304.00,741.27 L305.50,741.25 L307.00,741.24 L308.50,741.23 L310.00,741.25 L311.50,741.26 L313.00,741.25 L314.50,741.24 L316.00,741.25 L317.50,741.27 L319.00,741.24 L320.50,741.24 L322.00,741.26 L323.50,741.25 L325.00,741.24 L326.50,741.25 L328.00,741.25 L329.50,741.24 L331.00,741.26 L332.50,741.26 L334.00,741.25 L335.50,741.27 L337.00,741.26 L338.50,741.25 L340.00,741.25 L341.50,741.22 L343.00,741.25 L344.50,741.24 L346.00,741.24 L347.50,741.24 L349.00,741.23 L350.50,741.25 L352.00,741.25 L353.50,741.25 L355.00,741.24 L356.50,741.27 L358.00,741.26 L359.50,741.23 L361.00,741.21 L362.50,740.97 L364.00,740.25 L365.50,739.47 L367.00,739.68 L368.50,740.54 L370.00,741.08 L370.90,741.21 L371.00,741.11 L371.10,739.66 L371.40,704.99 L372.90,705.00 L373.30,579.89 L373.40,567.51 L373.50,579.91 L373.80,688.05 L373.90,705.00 L374.20,705.00 L374.30,706.00 L374.50,724.00 L375.30,728.48 L376.20,727.81 L376.90,729.01 L378.40,737.48 L378.60,738.47 L379.80,741.26 L381.30,741.26 L382.80,741.24 L384.30,741.24 L385.80,741.25 L387.30,741.26 L388.80,741.27 L390.30,741.25 L391.80,741.26 L393.30,741.24 L394.80,741.24 L396.30,741.23 L397.80,741.25 L399.30,741.26 L400.80,741.24 L402.30,741.24 L403.80,741.23 L404.20,741.16 L404.30,741.00 L404.50,739.54 L405.00,725.52 L405.10,725.52 L405.60,739.55 L405.80,741.02 L406.00,741.23 L407.50,741.24 L409.00,741.25 L410.50,741.26 L412.00,741.23 L413.50,741.27 L415.00,741.24 L416.50,741.26 L418.00,741.26 L419.50,741.25 L421.00,741.24 L422.50,741.24 L424.00,741.24 L425.50,741.24 L427.00,741.25 L428.50,741.24 L430.00,741.26 L431.50,741.24 L433.00,741.25 L434.50,741.25 L436.00,741.25 L437.50,741.26 L439.00,741.25 L440.50,741.25 L442.00,741.26 L443.50,741.26 L445.00,741.25 L446.50,741.26 L448.00,741.25 L449.50,741.24 L451.00,741.26 L452.50,741.26 L454.00,741.26 L455.50,741.28 L457.00,741.27 L458.50,741.28 L460.00,741.25 L461.50,741.27 L463.00,741.26 L464.50,741.25 L466.00,741.24 L467.50,741.23 L469.00,741.24 L470.50,741.25 L471.70,741.27" fill="none" stroke="#000" stroke-width="1.35" stroke-linejoin="round"/>
<rect x="372.7" y="687.5" width="1.3" height="18.1" fill="#6a6a6a"/>
<rect x="370.8" y="704.8" width="1.1" height="36.8" fill="#7a7a7a"/>
<rect x="371.9" y="705.6" width="1.8" height="35.4" fill="#d4d4d4"/>
<rect x="471.7" y="531.7" width="1.3" height="219.2" fill="#999"/>
<rect x="39.5" y="749.7" width="433.45" height="1.2" fill="#999"/>
<rect x="38.95" y="531.15" width="433.95" height="1.1" fill="#1e1e1e"/>
<rect x="38.95" y="531.15" width="1.1" height="219.7" fill="#1e1e1e"/>
<line x1="34.9" y1="750.3" x2="39.5" y2="750.3" stroke="#111" stroke-width="1.0"/>
<text x="34" y="753.4" font-size="6.9" font-weight="bold" fill="#111" stroke="#111" stroke-width="0.2" text-anchor="end" textLength="13.2" lengthAdjust="spacingAndGlyphs">1691</text>
<line x1="34.9" y1="745.99" x2="39.5" y2="745.99" stroke="#111" stroke-width="1.0"/>
<line x1="34.9" y1="732.03" x2="39.5" y2="732.03" stroke="#111" stroke-width="1.0"/>
<text x="34" y="735.13" font-size="6.9" font-weight="bold" fill="#111" stroke="#111" stroke-width="0.2" text-anchor="end" textLength="13.2" lengthAdjust="spacingAndGlyphs">3000</text>
<line x1="34.9" y1="718.07" x2="39.5" y2="718.07" stroke="#111" stroke-width="1.0"/>
<text x="34" y="721.17" font-size="6.9" font-weight="bold" fill="#111" stroke="#111" stroke-width="0.2" text-anchor="end" textLength="13.2" lengthAdjust="spacingAndGlyphs">4000</text>
<line x1="34.9" y1="704.12" x2="39.5" y2="704.12" stroke="#111" stroke-width="1.0"/>
<text x="34" y="707.22" font-size="6.9" font-weight="bold" fill="#111" stroke="#111" stroke-width="0.2" text-anchor="end" textLength="13.2" lengthAdjust="spacingAndGlyphs">5000</text>
<line x1="34.9" y1="690.16" x2="39.5" y2="690.16" stroke="#111" stroke-width="1.0"/>
<text x="34" y="693.26" font-size="6.9" font-weight="bold" fill="#111" stroke="#111" stroke-width="0.2" text-anchor="end" textLength="13.2" lengthAdjust="spacingAndGlyphs">6000</text>
<line x1="34.9" y1="676.21" x2="39.5" y2="676.21" stroke="#111" stroke-width="1.0"/>
<text x="34" y="679.31" font-size="6.9" font-weight="bold" fill="#111" stroke="#111" stroke-width="0.2" text-anchor="end" textLength="13.2" lengthAdjust="spacingAndGlyphs">7000</text>
<line x1="34.9" y1="662.25" x2="39.5" y2="662.25" stroke="#111" stroke-width="1.0"/>
<text x="34" y="665.35" font-size="6.9" font-weight="bold" fill="#111" stroke="#111" stroke-width="0.2" text-anchor="end" textLength="13.2" lengthAdjust="spacingAndGlyphs">8000</text>
<line x1="34.9" y1="648.29" x2="39.5" y2="648.29" stroke="#111" stroke-width="1.0"/>
<text x="34" y="651.39" font-size="6.9" font-weight="bold" fill="#111" stroke="#111" stroke-width="0.2" text-anchor="end" textLength="13.2" lengthAdjust="spacingAndGlyphs">9000</text>
<line x1="34.9" y1="634.34" x2="39.5" y2="634.34" stroke="#111" stroke-width="1.0"/>
<text x="34" y="637.44" font-size="6.9" font-weight="bold" fill="#111" stroke="#111" stroke-width="0.2" text-anchor="end" textLength="16.5" lengthAdjust="spacingAndGlyphs">10000</text>
<line x1="34.9" y1="620.38" x2="39.5" y2="620.38" stroke="#111" stroke-width="1.0"/>
<text x="34" y="623.48" font-size="6.9" font-weight="bold" fill="#111" stroke="#111" stroke-width="0.2" text-anchor="end" textLength="16.5" lengthAdjust="spacingAndGlyphs">11000</text>
<line x1="34.9" y1="606.42" x2="39.5" y2="606.42" stroke="#111" stroke-width="1.0"/>
<text x="34" y="609.52" font-size="6.9" font-weight="bold" fill="#111" stroke="#111" stroke-width="0.2" text-anchor="end" textLength="16.5" lengthAdjust="spacingAndGlyphs">12000</text>
<line x1="34.9" y1="592.47" x2="39.5" y2="592.47" stroke="#111" stroke-width="1.0"/>
<text x="34" y="595.57" font-size="6.9" font-weight="bold" fill="#111" stroke="#111" stroke-width="0.2" text-anchor="end" textLength="16.5" lengthAdjust="spacingAndGlyphs">13000</text>
<line x1="34.9" y1="578.51" x2="39.5" y2="578.51" stroke="#111" stroke-width="1.0"/>
<text x="34" y="581.61" font-size="6.9" font-weight="bold" fill="#111" stroke="#111" stroke-width="0.2" text-anchor="end" textLength="16.5" lengthAdjust="spacingAndGlyphs">14000</text>
<line x1="34.9" y1="564.55" x2="39.5" y2="564.55" stroke="#111" stroke-width="1.0"/>
<text x="34" y="567.65" font-size="6.9" font-weight="bold" fill="#111" stroke="#111" stroke-width="0.2" text-anchor="end" textLength="16.5" lengthAdjust="spacingAndGlyphs">15000</text>
<line x1="34.9" y1="550.6" x2="39.5" y2="550.6" stroke="#111" stroke-width="1.0"/>
<text x="34" y="553.7" font-size="6.9" font-weight="bold" fill="#111" stroke="#111" stroke-width="0.2" text-anchor="end" textLength="16.5" lengthAdjust="spacingAndGlyphs">16000</text>
<line x1="34.9" y1="536.64" x2="39.5" y2="536.64" stroke="#111" stroke-width="1.0"/>
<line x1="34.9" y1="531.7" x2="39.5" y2="531.7" stroke="#111" stroke-width="1.0"/>
<text x="34" y="534.8" font-size="6.9" font-weight="bold" fill="#111" stroke="#111" stroke-width="0.2" text-anchor="end" textLength="16.5" lengthAdjust="spacingAndGlyphs">17354</text>
<line x1="194.2" y1="750.3" x2="194.2" y2="754.1" stroke="#222" stroke-width="0.9"/>
<text transform="translate(196.4,755.3) rotate(-90)" font-size="6.3" font-weight="bold" fill="#1a1a1a" stroke="#1a1a1a" stroke-width="0.15" text-anchor="end" textLength="3" lengthAdjust="spacingAndGlyphs">1</text>
<line x1="219.6" y1="750.3" x2="219.6" y2="754.1" stroke="#222" stroke-width="0.9"/>
<text transform="translate(221.8,755.3) rotate(-90)" font-size="6.3" font-weight="bold" fill="#1a1a1a" stroke="#1a1a1a" stroke-width="0.15" text-anchor="end" textLength="6" lengthAdjust="spacingAndGlyphs">35</text>
<line x1="241.1" y1="750.3" x2="241.1" y2="754.1" stroke="#222" stroke-width="0.9"/>
<text transform="translate(243.3,755.3) rotate(-90)" font-size="6.3" font-weight="bold" fill="#1a1a1a" stroke="#1a1a1a" stroke-width="0.15" text-anchor="end" textLength="6" lengthAdjust="spacingAndGlyphs">75</text>
<line x1="253.5" y1="750.3" x2="253.5" y2="754.1" stroke="#222" stroke-width="0.9"/>
<text transform="translate(255.7,755.3) rotate(-90)" font-size="6.3" font-weight="bold" fill="#1a1a1a" stroke="#1a1a1a" stroke-width="0.15" text-anchor="end" textLength="9" lengthAdjust="spacingAndGlyphs">100</text>
<line x1="276.6" y1="750.3" x2="276.6" y2="754.1" stroke="#222" stroke-width="0.9"/>
<text transform="translate(278.8,755.3) rotate(-90)" font-size="6.3" font-weight="bold" fill="#1a1a1a" stroke="#1a1a1a" stroke-width="0.15" text-anchor="end" textLength="9" lengthAdjust="spacingAndGlyphs">150</text>
<line x1="297.2" y1="750.3" x2="297.2" y2="754.1" stroke="#222" stroke-width="0.9"/>
<text transform="translate(299.4,755.3) rotate(-90)" font-size="6.3" font-weight="bold" fill="#1a1a1a" stroke="#1a1a1a" stroke-width="0.15" text-anchor="end" textLength="9" lengthAdjust="spacingAndGlyphs">200</text>
<line x1="318.2" y1="750.3" x2="318.2" y2="754.1" stroke="#222" stroke-width="0.9"/>
<text transform="translate(320.4,755.3) rotate(-90)" font-size="6.3" font-weight="bold" fill="#1a1a1a" stroke="#1a1a1a" stroke-width="0.15" text-anchor="end" textLength="9" lengthAdjust="spacingAndGlyphs">250</text>
<line x1="337.1" y1="750.3" x2="337.1" y2="754.1" stroke="#222" stroke-width="0.9"/>
<text transform="translate(339.3,755.3) rotate(-90)" font-size="6.3" font-weight="bold" fill="#1a1a1a" stroke="#1a1a1a" stroke-width="0.15" text-anchor="end" textLength="9" lengthAdjust="spacingAndGlyphs">300</text>
<line x1="373.4" y1="750.3" x2="373.4" y2="754.1" stroke="#222" stroke-width="0.9"/>
<text transform="translate(375.6,755.3) rotate(-90)" font-size="6.3" font-weight="bold" fill="#1a1a1a" stroke="#1a1a1a" stroke-width="0.15" text-anchor="end" textLength="9" lengthAdjust="spacingAndGlyphs">400</text>
<line x1="405.5" y1="750.3" x2="405.5" y2="754.1" stroke="#222" stroke-width="0.9"/>
<text transform="translate(407.7,755.3) rotate(-90)" font-size="6.3" font-weight="bold" fill="#1a1a1a" stroke="#1a1a1a" stroke-width="0.15" text-anchor="end" textLength="9" lengthAdjust="spacingAndGlyphs">500</text>
<text x="268.4" y="779.3" font-size="6.9" font-weight="bold" fill="#1a1a1a" text-anchor="middle" textLength="26.6" lengthAdjust="spacingAndGlyphs">Size (bp)</text>
<text transform="translate(11.8,643.3) rotate(-90)" font-size="6.6" font-weight="bold" fill="#111" stroke="#111" stroke-width="0.2" text-anchor="middle" textLength="11.8" lengthAdjust="spacingAndGlyphs">RFU</text>
<text x="40.1" y="540" font-size="8.7" font-weight="bold" fill="#1a1a6a" stroke="#1a1a6a" stroke-width="0.35" textLength="27.4" lengthAdjust="spacingAndGlyphs">E1:&#8201;9533</text>
<text transform="scale(1.0 1)" x="52.4" y="562.7" font-size="11.2" fill="#000" stroke="#000" stroke-width="0.3" textLength="14" lengthAdjust="spacingAndGlyphs">IL8</text>
<text transform="scale(0.86 1)" x="81.28" y="562.7" font-size="11.2" fill="#000" stroke="#000" stroke-width="0.3" textLength="61.28" lengthAdjust="spacing">rs2227543</text>
<text transform="scale(0.86 1)" x="148.37" y="562.7" font-size="11.2" fill="#000" stroke="#000" stroke-width="0.3" textLength="40.47" lengthAdjust="spacing">(+1633</text>
<text transform="scale(0.86 1)" x="193.02" y="562.7" font-size="11.2" fill="#000" stroke="#000" stroke-width="0.3" textLength="26.28" lengthAdjust="spacing">C&gt;T)</text>
<text transform="scale(1.0 1)" x="192.2" y="562.7" font-size="11.2" fill="#000" stroke="#000" stroke-width="0.3" textLength="20.1" lengthAdjust="spacingAndGlyphs">T/T</text>
<text x="194.1" y="723" font-size="6.6" font-weight="bold" fill="#cc1830" text-anchor="middle" textLength="10.4" lengthAdjust="spacingAndGlyphs">LM</text>
<text transform="translate(375.5,550.35) rotate(-90)" font-size="6.4" font-weight="bold" fill="#2e2896" stroke="#2e2896" stroke-width="0.2" text-anchor="middle" textLength="9.7" lengthAdjust="spacingAndGlyphs">401</text>
<text transform="translate(379.8,712.15) rotate(-90)" font-size="6.4" font-weight="bold" fill="#2e2896" stroke="#2e2896" stroke-width="0.2" text-anchor="middle" textLength="9.5" lengthAdjust="spacingAndGlyphs">414</text>
<text transform="translate(367,723.95) rotate(-90)" font-size="6.4" font-weight="bold" fill="#2e2896" stroke="#2e2896" stroke-width="0.2" text-anchor="middle" textLength="8.9" lengthAdjust="spacingAndGlyphs">332</text>
<text transform="translate(370.2,723.95) rotate(-90)" font-size="6.4" font-weight="bold" fill="#2e2896" stroke="#2e2896" stroke-width="0.2" text-anchor="middle" textLength="8.9" lengthAdjust="spacingAndGlyphs">355</text>
<text x="404.3" y="721" font-size="6.6" font-weight="bold" fill="#cc1830" text-anchor="middle" textLength="10.4" lengthAdjust="spacingAndGlyphs">UM</text>
</svg></body></html>
